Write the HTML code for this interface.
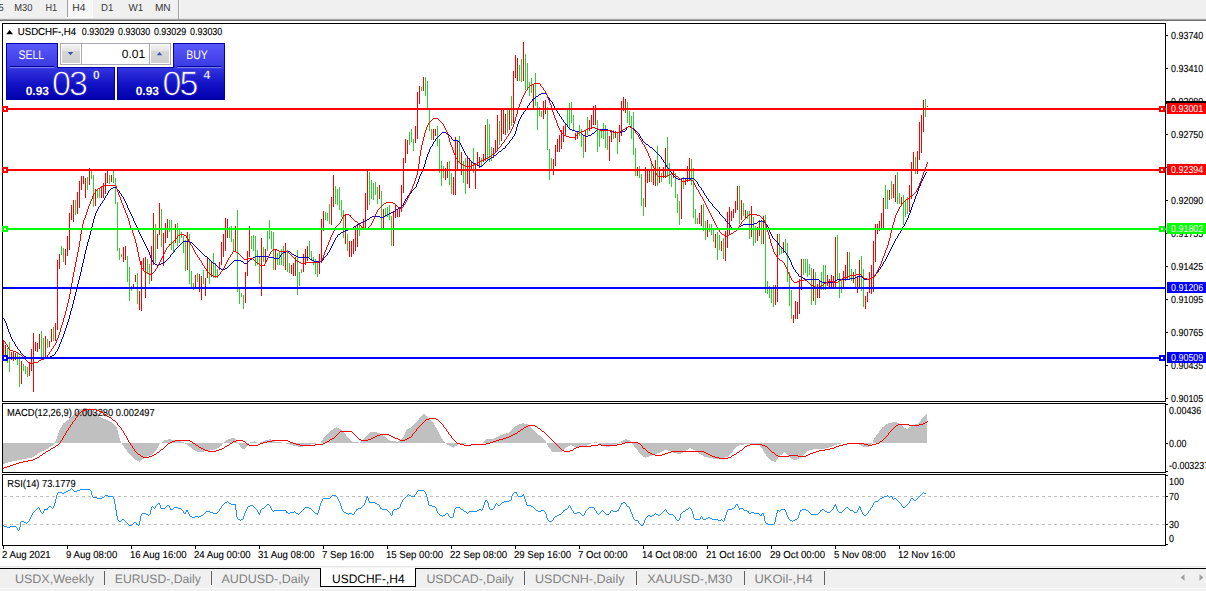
<!DOCTYPE html>
<html><head><meta charset="utf-8"><title>USDCHF-,H4</title>
<style>html,body{margin:0;padding:0;background:#fff;}body{width:1206px;height:591px;overflow:hidden;position:relative;font-family:"Liberation Sans",sans-serif;}</style></head>
<body>
<svg width="1206" height="591" viewBox="0 0 1206 591" style="position:absolute;left:0;top:0" text-rendering="geometricPrecision" font-family='"Liberation Sans", sans-serif'>
<rect width="1206" height="591" fill="#fff"/>
<defs><pattern id="dith" x="0" y="0" width="2" height="2" patternUnits="userSpaceOnUse"><rect width="2" height="2" fill="#f3f3f3"/><rect width="1" height="1" fill="#fcfcfc"/><rect x="1" y="1" width="1" height="1" fill="#fcfcfc"/></pattern></defs>
<g shape-rendering="crispEdges">
<rect x="0" y="0" width="1206" height="19" fill="#f0f0f0"/>
<rect x="0" y="18" width="1206" height="1" fill="#e4e4e4"/>
<rect x="0" y="19" width="1206" height="1" fill="#a4a4a4"/>
<rect x="0" y="20" width="1206" height="1" fill="#707070"/>
<rect x="67" y="0" width="26" height="18" fill="#ffffff"/>
<rect x="68" y="0" width="24" height="17" fill="url(#dith)"/>
<rect x="67" y="0" width="1" height="17" fill="#a0a0a0"/>
<rect x="178" y="0" width="1" height="19" fill="#a0a0a0"/><rect x="179" y="0" width="1" height="18" fill="#fafafa"/>
</g>
<text x="-1.6" y="11" font-size="10.2" fill="#383838" textLength="5.2" lengthAdjust="spacingAndGlyphs">5</text>
<text x="14.3" y="11" font-size="10.2" fill="#383838" textLength="18.2" lengthAdjust="spacingAndGlyphs">M30</text>
<text x="45.4" y="11" font-size="10.2" fill="#383838" textLength="11.7" lengthAdjust="spacingAndGlyphs">H1</text>
<text x="72.2" y="11" font-size="10.2" fill="#383838" textLength="13.2" lengthAdjust="spacingAndGlyphs">H4</text>
<text x="100.9" y="11" font-size="10.2" fill="#383838" textLength="12.4" lengthAdjust="spacingAndGlyphs">D1</text>
<text x="128.6" y="11" font-size="10.2" fill="#383838" textLength="14.7" lengthAdjust="spacingAndGlyphs">W1</text>
<text x="154.9" y="11" font-size="10.2" fill="#383838" textLength="15.7" lengthAdjust="spacingAndGlyphs">MN</text>
<g shape-rendering="crispEdges" fill="none" stroke="#000" stroke-width="1">
<rect x="2.5" y="23.5" width="1163" height="378"/>
<rect x="2.5" y="403.5" width="1163" height="69"/>
<rect x="2.5" y="474.5" width="1163" height="71"/>
</g>
<defs><clipPath id="cm"><rect x="3" y="24" width="1162" height="377"/></clipPath><clipPath id="c2"><rect x="3" y="404" width="1162" height="68"/></clipPath><clipPath id="c3"><rect x="3" y="475" width="1162" height="70"/></clipPath><linearGradient id="gs" x1="0" y1="0" x2="0" y2="1"><stop offset="0" stop-color="#5858fa"/><stop offset="1" stop-color="#3a3ae2"/></linearGradient><linearGradient id="gp" gradientUnits="userSpaceOnUse" x1="0" y1="67" x2="0" y2="100"><stop offset="0" stop-color="#3636e0"/><stop offset="0.55" stop-color="#1010c4"/><stop offset="1" stop-color="#0000ac"/></linearGradient><linearGradient id="gb" x1="0" y1="0" x2="0" y2="1"><stop offset="0" stop-color="#f2f2f2"/><stop offset="0.36" stop-color="#e2e2e2"/><stop offset="0.36" stop-color="#d6d6d6"/><stop offset="1" stop-color="#d0d0d0"/></linearGradient></defs>
<g clip-path="url(#cm)">
<path d="M3.5,340V361M5.5,345V361M11.5,352V360M13.5,352V361M15.5,353V360M21.5,361V384M29.5,363V376M31.5,349V371M33.5,333V392M35.5,342V351M37.5,343V352M39.5,334V349M45.5,336V358M49.5,341V347M51.5,329V342M55.5,323V341M57.5,260V330M59.5,254V269M65.5,249V265M67.5,236V256M69.5,213V250M71.5,205V220M73.5,200V222M77.5,192V214M79.5,181V208M81.5,176V190M83.5,176V184M85.5,178V198M89.5,168V185M95.5,189V206M101.5,186V198M103.5,183V198M105.5,173V194M107.5,171V183M111.5,175V182M123.5,247V262M125.5,246V260M133.5,284V289M135.5,275V282M139.5,291V310M141.5,261V311M143.5,258V271M145.5,257V298M151.5,246V281M153.5,213V265M157.5,234V249M159.5,203V235M163.5,233V266M165.5,223V243M167.5,219V238M175.5,224V243M187.5,232V270M195.5,275V289M199.5,274V292M201.5,276V300M205.5,278V296M207.5,258V278M211.5,261V277M219.5,262V270M221.5,242V265M223.5,234V257M225.5,218V251M227.5,219V238M235.5,226V251M245.5,272V303M247.5,251V276M249.5,226V257M261.5,238V296M265.5,249V262M275.5,249V270M285.5,243V270M291.5,265V274M293.5,263V276M295.5,257V276M303.5,254V272M305.5,249V265M307.5,246V261M319.5,254V274M321.5,219V263M323.5,211V231M331.5,197V225M333.5,175V207M345.5,215V244M349.5,241V257M351.5,241V257M353.5,239V254M355.5,227V251M357.5,225V247M363.5,219V228M365.5,193V230M367.5,171V210M379.5,185V199M383.5,209V228M393.5,211V246M395.5,205V218M397.5,210V217M399.5,209V217M401.5,185V212M403.5,158V193M405.5,139V163M407.5,140V154M415.5,126V143M417.5,92V139M419.5,86V104M423.5,77V91M433.5,129V140M435.5,129V136M445.5,168V180M447.5,162V178M453.5,177V195M455.5,137V195M457.5,140V170M461.5,152V175M467.5,158V184M469.5,158V188M471.5,161V170M475.5,163V189M477.5,152V166M479.5,157V168M483.5,154V162M485.5,125V161M493.5,148V158M495.5,140V153M497.5,115V150M501.5,109V141M503.5,109V134M505.5,114V135M509.5,109V130M513.5,71V123M515.5,55V78M517.5,58V81M523.5,42V81M533.5,84V110M543.5,101V119M545.5,100V114M553.5,159V175M555.5,145V166M557.5,139V152M559.5,135V152M561.5,130V149M563.5,126V142M565.5,124V135M575.5,133V140M577.5,131V139M585.5,131V152M589.5,120V131M591.5,115V129M593.5,106V125M595.5,105V125M609.5,136V161M611.5,130V142M615.5,131V138M619.5,125V142M621.5,101V136M623.5,97V111M625.5,99V113M637.5,167V176M645.5,167V207M647.5,170V183M649.5,170V182M653.5,169V185M655.5,160V186M659.5,167V183M663.5,167V178M665.5,148V178M673.5,171V178M681.5,178V219M685.5,178V185M687.5,166V182M689.5,158V180M699.5,213V224M701.5,205V226M707.5,220V237M715.5,234V248M721.5,241V251M725.5,231V261M727.5,212V248M729.5,207V234M731.5,211V221M733.5,209V218M735.5,201V213M737.5,186V210M741.5,200V220M745.5,210V218M751.5,206V237M757.5,227V241M759.5,220V236M763.5,216V244M775.5,285V305M777.5,234V302M783.5,242V253M793.5,315V323M795.5,301V319M797.5,302V319M799.5,279V314M801.5,259V290M813.5,269V301M817.5,284V298M819.5,281V298M827.5,275V286M829.5,279V289M831.5,275V289M833.5,276V288M835.5,237V288M843.5,271V288M845.5,265V281M847.5,252V279M853.5,272V283M857.5,276V293M859.5,260V288M865.5,296V309M867.5,292V302M869.5,272V293M871.5,265V294M873.5,241V292M875.5,224V262M877.5,224V234M879.5,221V231M881.5,213V230M883.5,198V228M889.5,190V200M893.5,184V198M895.5,175V202M901.5,197V206M909.5,185V212M911.5,162V199M913.5,152V169M917.5,151V174M919.5,122V160M921.5,115V153M923.5,100V132M927.5,106V107" stroke="#ff0000" stroke-width="1" shape-rendering="crispEdges" fill="none"/>
<path d="M7.5,348V363M9.5,342V372M17.5,352V365M19.5,356V387M23.5,364V371M25.5,366V374M27.5,367V377M41.5,331V358M43.5,338V359M47.5,339V348M53.5,327V341M61.5,246V255M63.5,248V262M75.5,200V215M87.5,177V190M91.5,169V179M93.5,175V207M97.5,189V198M99.5,188V198M109.5,175V184M113.5,171V183M115.5,178V204M117.5,202V251M119.5,248V260M121.5,254V257M127.5,256V282M129.5,267V301M131.5,286V291M137.5,273V304M147.5,259V273M149.5,264V284M155.5,224V263M161.5,209V247M169.5,220V232M171.5,220V250M173.5,242V252M177.5,223V246M179.5,230V243M181.5,232V238M183.5,236V253M185.5,240V271M189.5,234V284M191.5,271V289M193.5,283V290M197.5,273V282M203.5,270V284M209.5,259V284M213.5,253V278M215.5,263V278M217.5,269V278M229.5,227V238M231.5,226V242M233.5,239V251M237.5,210V292M239.5,288V304M241.5,293V297M243.5,295V309M251.5,236V249M253.5,235V251M255.5,236V266M257.5,250V265M259.5,257V284M263.5,247V262M267.5,231V251M269.5,220V239M271.5,231V249M273.5,232V270M277.5,253V265M279.5,251V265M281.5,249V265M283.5,246V266M287.5,250V272M289.5,263V273M297.5,250V295M299.5,272V286M301.5,269V273M309.5,241V257M311.5,251V261M313.5,257V265M315.5,259V274M317.5,261V277M325.5,212V220M327.5,213V221M329.5,204V224M335.5,186V204M337.5,189V205M339.5,187V210M341.5,200V217M343.5,210V238M347.5,234V251M359.5,225V236M361.5,226V230M369.5,172V205M371.5,180V199M373.5,183V200M375.5,182V195M377.5,187V204M381.5,191V228M385.5,208V217M387.5,207V217M389.5,205V220M391.5,216V246M409.5,132V145M411.5,129V142M413.5,139V151M421.5,87V91M425.5,77V96M427.5,81V110M429.5,110V131M431.5,129V140M437.5,126V146M439.5,139V173M441.5,161V186M443.5,166V178M449.5,161V185M451.5,173V194M459.5,136V163M463.5,161V183M465.5,158V194M473.5,148V173M481.5,158V167M487.5,119V161M489.5,124V162M491.5,147V161M499.5,121V145M507.5,110V133M511.5,96V126M519.5,65V81M521.5,59V82M525.5,54V90M527.5,63V90M529.5,82V96M531.5,78V93M535.5,73V106M537.5,102V130M539.5,107V116M541.5,111V117M547.5,107V150M549.5,149V180M551.5,158V169M567.5,109V125M569.5,103V130M571.5,102V123M573.5,115V131M579.5,125V136M581.5,129V147M583.5,135V158M587.5,117V135M597.5,120V152M599.5,129V147M601.5,130V138M603.5,123V139M605.5,125V148M607.5,131V150M613.5,130V139M617.5,133V154M627.5,102V123M629.5,111V125M631.5,116V139M633.5,112V155M635.5,148V176M639.5,166V178M641.5,174V206M643.5,198V216M651.5,164V182M657.5,146V186M661.5,173V182M667.5,137V177M669.5,163V184M671.5,175V187M675.5,173V198M677.5,194V213M679.5,201V225M683.5,177V189M691.5,159V185M693.5,168V218M695.5,209V224M697.5,218V224M703.5,204V231M705.5,221V240M709.5,224V232M711.5,224V235M713.5,228V242M717.5,232V260M719.5,235V250M723.5,238V259M739.5,186V224M743.5,203V216M747.5,211V219M749.5,211V239M753.5,217V246M755.5,226V243M761.5,220V244M765.5,215V293M767.5,281V294M769.5,286V298M771.5,288V303M773.5,285V307M779.5,234V255M781.5,247V254M785.5,239V252M787.5,243V282M789.5,272V306M791.5,290V319M803.5,259V275M805.5,259V273M807.5,259V277M809.5,264V275M811.5,268V305M815.5,272V305M821.5,272V290M823.5,265V290M825.5,265V290M837.5,235V279M839.5,273V298M841.5,280V293M849.5,252V280M851.5,269V281M855.5,269V288M861.5,256V291M863.5,269V307M885.5,185V209M887.5,190V209M891.5,181V199M897.5,172V204M899.5,193V204M903.5,195V225M905.5,200V217M907.5,197V214M915.5,157V174M925.5,99V117" stroke="#32cd32" stroke-width="1" shape-rendering="crispEdges" fill="none"/>
<path d="" stroke="#000" stroke-width="1" shape-rendering="crispEdges" fill="none"/>
<path d="M3.5,318V319M4.5,319V321M5.5,321V323M6.5,323V326M7.5,326V329M8.5,329V332M9.5,332V334M10.5,334V337M11.5,337V339M12.5,339V341M13.5,341V342M14.5,342V344M15.5,344V346M16.5,346V347M17.5,347V349M18.5,349V350M19.5,350V351M20.5,351V353M21.5,353V354M22.5,354V355M23.5,355V356M24.5,356V357M25.5,356V357M26.5,357V358M27.5,357V358M28.5,357V358M29.5,357V358M30.5,357V358M31.5,357V358M32.5,357V358M33.5,357V358M34.5,357V358M35.5,357V358M36.5,357V358M37.5,357V358M38.5,357V358M39.5,357V358M40.5,357V358M41.5,357V358M42.5,357V358M43.5,357V358M44.5,357V358M45.5,357V358M46.5,357V358M47.5,357V358M48.5,357V358M49.5,357V358M50.5,356V357M51.5,356V357M52.5,355V356M53.5,355V356M54.5,354V355M55.5,352V354M56.5,351V352M57.5,349V351M58.5,347V349M59.5,344V347M60.5,342V344M61.5,339V342M62.5,337V339M63.5,334V337M64.5,331V334M65.5,328V331M66.5,325V328M67.5,322V325M68.5,319V322M69.5,315V319M70.5,311V315M71.5,308V311M72.5,304V308M73.5,300V304M74.5,296V300M75.5,292V296M76.5,288V292M77.5,284V288M78.5,280V284M79.5,276V280M80.5,272V276M81.5,267V272M82.5,263V267M83.5,259V263M84.5,254V259M85.5,250V254M86.5,246V250M87.5,242V246M88.5,239V242M89.5,235V239M90.5,231V235M91.5,227V231M92.5,223V227M93.5,219V223M94.5,216V219M95.5,213V216M96.5,211V213M97.5,209V211M98.5,207V209M99.5,206V207M100.5,204V206M101.5,203V204M102.5,201V203M103.5,200V201M104.5,198V200M105.5,196V198M106.5,195V196M107.5,193V195M108.5,191V193M109.5,190V191M110.5,189V190M111.5,188V189M112.5,188V189M113.5,187V188M114.5,187V188M115.5,187V188M116.5,188V189M117.5,189V190M118.5,190V191M119.5,191V193M120.5,193V194M121.5,194V196M122.5,196V197M123.5,197V199M124.5,199V201M125.5,201V203M126.5,203V205M127.5,205V208M128.5,208V210M129.5,210V212M130.5,212V214M131.5,214V216M132.5,216V218M133.5,218V221M134.5,221V223M135.5,223V225M136.5,225V227M137.5,227V229M138.5,229V232M139.5,232V234M140.5,234V236M141.5,236V238M142.5,238V240M143.5,240V242M144.5,242V244M145.5,244V246M146.5,246V248M147.5,248V250M148.5,250V252M149.5,252V255M150.5,255V258M151.5,258V260M152.5,260V262M153.5,262V263M154.5,263V264M155.5,264V265M156.5,264V265M157.5,265V266M158.5,265V266M159.5,264V265M160.5,264V265M161.5,263V264M162.5,263V264M163.5,262V263M164.5,262V263M165.5,261V262M166.5,260V261M167.5,259V260M168.5,258V259M169.5,257V258M170.5,255V257M171.5,254V255M172.5,253V254M173.5,252V253M174.5,250V252M175.5,249V250M176.5,248V249M177.5,247V248M178.5,246V247M179.5,245V246M180.5,244V245M181.5,243V244M182.5,242V243M183.5,241V242M184.5,241V242M185.5,241V242M186.5,241V242M187.5,241V242M188.5,241V242M189.5,241V242M190.5,242V243M191.5,242V243M192.5,243V244M193.5,244V245M194.5,245V246M195.5,246V247M196.5,247V248M197.5,248V249M198.5,249V250M199.5,250V251M200.5,251V252M201.5,252V253M202.5,253V254M203.5,254V255M204.5,255V256M205.5,256V257M206.5,256V257M207.5,257V258M208.5,258V259M209.5,259V260M210.5,260V261M211.5,261V262M212.5,262V263M213.5,263V264M214.5,263V264M215.5,264V265M216.5,265V266M217.5,266V267M218.5,267V268M219.5,268V269M220.5,268V269M221.5,269V270M222.5,269V270M223.5,269V270M224.5,269V270M225.5,268V269M226.5,268V269M227.5,267V268M228.5,266V267M229.5,265V266M230.5,264V265M231.5,263V264M232.5,262V263M233.5,261V262M234.5,260V261M235.5,260V261M236.5,260V261M237.5,260V261M238.5,260V261M239.5,260V261M240.5,260V261M241.5,261V262M242.5,261V262M243.5,262V263M244.5,263V264M245.5,263V264M246.5,263V264M247.5,262V263M248.5,261V262M249.5,260V261M250.5,259V260M251.5,259V260M252.5,258V259M253.5,257V258M254.5,257V258M255.5,256V257M256.5,256V257M257.5,256V257M258.5,256V257M259.5,256V257M260.5,256V257M261.5,256V257M262.5,256V257M263.5,256V257M264.5,256V257M265.5,256V257M266.5,256V257M267.5,256V257M268.5,256V257M269.5,257V258M270.5,257V258M271.5,257V258M272.5,257V258M273.5,257V258M274.5,258V259M275.5,258V259M276.5,258V259M277.5,258V259M278.5,258V259M279.5,257V258M280.5,255V257M281.5,254V255M282.5,253V254M283.5,252V253M284.5,252V253M285.5,252V253M286.5,251V252M287.5,251V252M288.5,251V252M289.5,251V252M290.5,252V253M291.5,253V254M292.5,254V255M293.5,254V255M294.5,255V256M295.5,255V256M296.5,256V257M297.5,256V257M298.5,257V258M299.5,257V258M300.5,257V258M301.5,257V258M302.5,257V258M303.5,257V258M304.5,257V258M305.5,257V258M306.5,257V258M307.5,257V258M308.5,257V258M309.5,258V259M310.5,259V260M311.5,259V260M312.5,260V261M313.5,260V261M314.5,261V262M315.5,261V262M316.5,261V262M317.5,261V262M318.5,261V262M319.5,262V263M320.5,261V262M321.5,261V262M322.5,260V261M323.5,258V260M324.5,257V258M325.5,256V257M326.5,255V256M327.5,253V255M328.5,252V253M329.5,250V252M330.5,248V250M331.5,246V248M332.5,244V246M333.5,242V244M334.5,240V242M335.5,238V240M336.5,237V238M337.5,235V237M338.5,234V235M339.5,234V235M340.5,233V234M341.5,232V233M342.5,232V233M343.5,231V232M344.5,231V232M345.5,230V231M346.5,230V231M347.5,230V231M348.5,229V230M349.5,229V230M350.5,229V230M351.5,229V230M352.5,228V229M353.5,227V228M354.5,226V227M355.5,226V227M356.5,225V226M357.5,224V225M358.5,224V225M359.5,223V224M360.5,223V224M361.5,222V223M362.5,222V223M363.5,221V222M364.5,221V222M365.5,220V221M366.5,220V221M367.5,219V220M368.5,219V220M369.5,218V219M370.5,217V218M371.5,217V218M372.5,216V217M373.5,216V217M374.5,216V217M375.5,216V217M376.5,216V217M377.5,216V217M378.5,216V217M379.5,216V217M380.5,217V218M381.5,217V218M382.5,217V218M383.5,217V218M384.5,216V217M385.5,215V216M386.5,215V216M387.5,214V215M388.5,214V215M389.5,213V214M390.5,213V214M391.5,212V213M392.5,212V213M393.5,211V212M394.5,211V212M395.5,210V211M396.5,209V210M397.5,209V210M398.5,208V209M399.5,207V208M400.5,207V208M401.5,206V207M402.5,205V206M403.5,203V205M404.5,201V203M405.5,199V201M406.5,198V199M407.5,196V198M408.5,195V196M409.5,194V195M410.5,193V194M411.5,191V193M412.5,190V191M413.5,189V190M414.5,188V189M415.5,187V188M416.5,184V187M417.5,182V184M418.5,179V182M419.5,176V179M420.5,174V176M421.5,172V174M422.5,169V172M423.5,167V169M424.5,164V167M425.5,160V164M426.5,157V160M427.5,154V157M428.5,152V154M429.5,149V152M430.5,147V149M431.5,146V147M432.5,144V146M433.5,142V144M434.5,141V142M435.5,139V141M436.5,138V139M437.5,137V138M438.5,136V137M439.5,135V136M440.5,134V135M441.5,133V134M442.5,132V133M443.5,132V133M444.5,132V133M445.5,132V133M446.5,133V134M447.5,133V134M448.5,134V135M449.5,135V136M450.5,136V137M451.5,137V139M452.5,139V140M453.5,140V141M454.5,140V141M455.5,140V141M456.5,140V141M457.5,140V141M458.5,141V142M459.5,142V143M460.5,143V145M461.5,145V147M462.5,147V149M463.5,149V151M464.5,151V153M465.5,153V155M466.5,155V156M467.5,156V158M468.5,158V159M469.5,159V160M470.5,160V161M471.5,161V162M472.5,162V163M473.5,163V164M474.5,163V164M475.5,164V165M476.5,164V165M477.5,165V166M478.5,165V166M479.5,166V167M480.5,166V167M481.5,166V167M482.5,165V166M483.5,164V165M484.5,163V164M485.5,162V163M486.5,161V162M487.5,160V161M488.5,159V160M489.5,159V160M490.5,158V159M491.5,157V158M492.5,157V158M493.5,156V157M494.5,155V156M495.5,155V156M496.5,154V155M497.5,153V154M498.5,152V153M499.5,151V152M500.5,151V152M501.5,150V151M502.5,149V150M503.5,148V149M504.5,148V149M505.5,146V148M506.5,145V146M507.5,144V145M508.5,143V144M509.5,141V143M510.5,140V141M511.5,139V140M512.5,137V139M513.5,136V137M514.5,134V136M515.5,131V134M516.5,127V131M517.5,124V127M518.5,121V124M519.5,119V121M520.5,117V119M521.5,115V117M522.5,114V115M523.5,112V114M524.5,111V112M525.5,109V111M526.5,108V109M527.5,106V108M528.5,105V106M529.5,103V105M530.5,102V103M531.5,101V102M532.5,99V101M533.5,99V100M534.5,98V99M535.5,97V98M536.5,96V97M537.5,96V97M538.5,95V96M539.5,94V95M540.5,94V95M541.5,93V94M542.5,93V94M543.5,93V94M544.5,93V94M545.5,93V94M546.5,94V95M547.5,95V97M548.5,97V98M549.5,98V100M550.5,100V101M551.5,101V102M552.5,102V104M553.5,104V106M554.5,106V108M555.5,108V109M556.5,109V111M557.5,111V113M558.5,113V114M559.5,114V116M560.5,116V117M561.5,117V119M562.5,119V120M563.5,120V122M564.5,122V123M565.5,123V124M566.5,124V125M567.5,125V127M568.5,127V128M569.5,128V129M570.5,129V130M571.5,129V130M572.5,130V131M573.5,130V131M574.5,130V131M575.5,131V132M576.5,131V132M577.5,131V132M578.5,131V132M579.5,132V133M580.5,132V133M581.5,133V134M582.5,134V135M583.5,135V136M584.5,135V136M585.5,136V137M586.5,136V137M587.5,136V137M588.5,135V136M589.5,135V136M590.5,135V136M591.5,134V135M592.5,133V134M593.5,133V134M594.5,132V133M595.5,131V132M596.5,130V131M597.5,129V130M598.5,129V130M599.5,129V130M600.5,129V130M601.5,129V130M602.5,129V130M603.5,129V130M604.5,129V130M605.5,129V130M606.5,129V130M607.5,129V130M608.5,130V131M609.5,130V131M610.5,131V132M611.5,131V132M612.5,131V132M613.5,131V132M614.5,132V133M615.5,132V133M616.5,132V133M617.5,132V133M618.5,132V133M619.5,132V133M620.5,132V133M621.5,132V133M622.5,131V132M623.5,131V132M624.5,131V132M625.5,130V131M626.5,128V130M627.5,127V128M628.5,126V127M629.5,126V127M630.5,126V127M631.5,127V128M632.5,128V129M633.5,128V129M634.5,129V130M635.5,130V131M636.5,131V132M637.5,132V133M638.5,133V134M639.5,134V136M640.5,136V138M641.5,138V139M642.5,139V141M643.5,141V142M644.5,142V143M645.5,143V144M646.5,144V145M647.5,144V145M648.5,145V146M649.5,146V147M650.5,147V148M651.5,147V148M652.5,148V149M653.5,149V150M654.5,150V151M655.5,151V152M656.5,152V153M657.5,153V154M658.5,154V155M659.5,155V156M660.5,156V157M661.5,157V159M662.5,159V160M663.5,160V162M664.5,162V163M665.5,163V165M666.5,165V167M667.5,167V168M668.5,168V170M669.5,170V171M670.5,171V172M671.5,172V173M672.5,173V175M673.5,175V176M674.5,176V177M675.5,177V178M676.5,178V179M677.5,178V179M678.5,179V180M679.5,179V180M680.5,179V180M681.5,179V180M682.5,178V179M683.5,178V179M684.5,178V179M685.5,178V179M686.5,178V179M687.5,178V179M688.5,178V179M689.5,178V179M690.5,178V179M691.5,178V179M692.5,178V179M693.5,178V179M694.5,179V180M695.5,180V181M696.5,181V182M697.5,182V184M698.5,184V186M699.5,186V187M700.5,187V188M701.5,188V190M702.5,190V191M703.5,191V193M704.5,193V195M705.5,195V196M706.5,196V198M707.5,198V199M708.5,199V201M709.5,201V202M710.5,202V203M711.5,203V204M712.5,204V206M713.5,206V207M714.5,207V208M715.5,208V209M716.5,209V210M717.5,210V211M718.5,211V212M719.5,212V214M720.5,214V215M721.5,215V216M722.5,216V217M723.5,217V218M724.5,218V219M725.5,219V221M726.5,221V222M727.5,222V223M728.5,223V224M729.5,224V225M730.5,225V227M731.5,227V228M732.5,228V229M733.5,229V230M734.5,229V230M735.5,229V230M736.5,228V230M737.5,228V229M738.5,227V228M739.5,226V227M740.5,226V227M741.5,225V226M742.5,225V226M743.5,224V225M744.5,224V225M745.5,224V225M746.5,224V225M747.5,224V225M748.5,224V225M749.5,224V225M750.5,224V225M751.5,224V225M752.5,224V225M753.5,224V225M754.5,223V224M755.5,223V224M756.5,223V224M757.5,222V223M758.5,221V222M759.5,221V222M760.5,221V222M761.5,220V221M762.5,221V222M763.5,221V222M764.5,222V223M765.5,223V224M766.5,224V225M767.5,225V227M768.5,227V229M769.5,229V232M770.5,232V234M771.5,234V236M772.5,236V238M773.5,238V239M774.5,239V240M775.5,240V241M776.5,241V242M777.5,242V243M778.5,243V245M779.5,245V246M780.5,246V247M781.5,247V248M782.5,248V249M783.5,249V251M784.5,251V252M785.5,252V253M786.5,253V255M787.5,255V256M788.5,256V258M789.5,258V260M790.5,260V262M791.5,262V265M792.5,265V267M793.5,267V269M794.5,269V270M795.5,270V272M796.5,272V273M797.5,273V274M798.5,274V276M799.5,276V277M800.5,276V277M801.5,277V278M802.5,277V278M803.5,278V279M804.5,278V279M805.5,279V280M806.5,279V280M807.5,279V280M808.5,279V280M809.5,279V280M810.5,279V280M811.5,279V280M812.5,279V280M813.5,279V280M814.5,279V280M815.5,279V280M816.5,279V280M817.5,279V280M818.5,279V280M819.5,280V281M820.5,281V282M821.5,281V282M822.5,282V283M823.5,282V283M824.5,282V283M825.5,282V283M826.5,282V283M827.5,282V283M828.5,282V283M829.5,282V283M830.5,282V283M831.5,282V283M832.5,282V283M833.5,281V282M834.5,281V282M835.5,280V281M836.5,280V281M837.5,279V280M838.5,279V280M839.5,279V280M840.5,279V280M841.5,279V280M842.5,279V280M843.5,279V280M844.5,279V280M845.5,279V280M846.5,279V280M847.5,279V280M848.5,279V280M849.5,279V280M850.5,278V279M851.5,278V279M852.5,278V279M853.5,278V279M854.5,278V279M855.5,277V278M856.5,277V278M857.5,276V277M858.5,276V277M859.5,276V277M860.5,276V277M861.5,276V277M862.5,277V278M863.5,278V279M864.5,279V280M865.5,279V280M866.5,279V280M867.5,279V280M868.5,279V280M869.5,279V280M870.5,278V279M871.5,278V279M872.5,277V278M873.5,276V277M874.5,276V277M875.5,274V276M876.5,273V274M877.5,272V273M878.5,270V272M879.5,269V270M880.5,267V269M881.5,266V267M882.5,264V266M883.5,262V264M884.5,261V262M885.5,259V261M886.5,257V259M887.5,255V257M888.5,253V255M889.5,251V253M890.5,249V251M891.5,247V249M892.5,245V247M893.5,243V245M894.5,241V243M895.5,239V241M896.5,238V239M897.5,236V238M898.5,234V236M899.5,233V234M900.5,231V233M901.5,229V231M902.5,227V229M903.5,226V227M904.5,224V226M905.5,222V224M906.5,220V222M907.5,218V220M908.5,215V218M909.5,213V215M910.5,210V213M911.5,207V210M912.5,204V207M913.5,202V204M914.5,199V202M915.5,196V199M916.5,194V196M917.5,191V194M918.5,188V191M919.5,186V188M920.5,183V186M921.5,181V183M922.5,179V181M923.5,177V179M924.5,175V177M925.5,173V175M926.5,172V173" stroke="#0000cd" stroke-width="1" fill="none" shape-rendering="crispEdges"/>
<path d="M3.5,340V341M4.5,341V342M5.5,342V344M6.5,344V345M7.5,345V347M8.5,347V349M9.5,349V350M10.5,350V351M11.5,350V351M12.5,350V351M13.5,351V352M14.5,351V352M15.5,351V352M16.5,352V353M17.5,352V353M18.5,353V354M19.5,354V355M20.5,354V355M21.5,355V356M22.5,356V357M23.5,357V358M24.5,358V359M25.5,359V360M26.5,360V361M27.5,361V362M28.5,362V363M29.5,362V363M30.5,363V364M31.5,363V364M32.5,363V364M33.5,363V364M34.5,362V363M35.5,362V363M36.5,362V363M37.5,362V363M38.5,361V362M39.5,360V361M40.5,360V361M41.5,359V360M42.5,359V360M43.5,359V360M44.5,358V359M45.5,358V359M46.5,357V358M47.5,355V357M48.5,354V355M49.5,352V354M50.5,351V352M51.5,349V351M52.5,348V349M53.5,346V348M54.5,345V346M55.5,343V345M56.5,340V343M57.5,338V340M58.5,335V338M59.5,332V335M60.5,328V332M61.5,325V328M62.5,322V325M63.5,318V322M64.5,315V318M65.5,311V315M66.5,307V311M67.5,303V307M68.5,299V303M69.5,294V299M70.5,289V294M71.5,283V289M72.5,277V283M73.5,272V277M74.5,267V272M75.5,262V267M76.5,257V262M77.5,252V257M78.5,247V252M79.5,241V247M80.5,234V241M81.5,228V234M82.5,224V228M83.5,220V224M84.5,218V220M85.5,215V218M86.5,212V215M87.5,209V212M88.5,206V209M89.5,204V206M90.5,201V204M91.5,199V201M92.5,196V199M93.5,194V196M94.5,193V194M95.5,191V193M96.5,190V191M97.5,189V190M98.5,188V189M99.5,188V189M100.5,187V188M101.5,187V188M102.5,186V187M103.5,186V187M104.5,185V186M105.5,185V186M106.5,185V186M107.5,185V186M108.5,185V186M109.5,185V186M110.5,185V186M111.5,185V186M112.5,185V186M113.5,185V186M114.5,185V186M115.5,185V186M116.5,186V189M117.5,189V192M118.5,192V195M119.5,195V197M120.5,197V200M121.5,200V203M122.5,203V205M123.5,205V208M124.5,208V210M125.5,210V213M126.5,213V215M127.5,215V218M128.5,218V221M129.5,221V225M130.5,225V228M131.5,228V230M132.5,230V233M133.5,233V236M134.5,236V239M135.5,239V243M136.5,243V247M137.5,247V252M138.5,252V257M139.5,257V261M140.5,261V265M141.5,265V268M142.5,268V269M143.5,269V271M144.5,271V272M145.5,271V272M146.5,272V273M147.5,273V274M148.5,273V274M149.5,274V275M150.5,274V275M151.5,274V275M152.5,273V274M153.5,272V273M154.5,271V272M155.5,269V271M156.5,268V269M157.5,266V268M158.5,264V266M159.5,262V264M160.5,260V262M161.5,258V260M162.5,256V258M163.5,254V256M164.5,252V254M165.5,250V252M166.5,248V250M167.5,247V248M168.5,246V247M169.5,244V246M170.5,244V245M171.5,243V244M172.5,242V243M173.5,241V242M174.5,240V241M175.5,239V240M176.5,238V239M177.5,236V238M178.5,235V236M179.5,235V236M180.5,234V235M181.5,234V235M182.5,234V235M183.5,234V235M184.5,235V236M185.5,235V236M186.5,236V238M187.5,238V239M188.5,239V241M189.5,241V243M190.5,243V245M191.5,245V246M192.5,246V248M193.5,248V250M194.5,250V252M195.5,252V254M196.5,254V255M197.5,255V257M198.5,257V258M199.5,258V260M200.5,260V261M201.5,261V263M202.5,263V265M203.5,265V266M204.5,266V268M205.5,268V269M206.5,269V271M207.5,271V272M208.5,272V273M209.5,273V274M210.5,274V275M211.5,275V276M212.5,275V276M213.5,276V277M214.5,276V277M215.5,276V277M216.5,276V277M217.5,276V277M218.5,275V276M219.5,274V275M220.5,272V274M221.5,271V272M222.5,269V271M223.5,268V269M224.5,266V268M225.5,264V266M226.5,262V264M227.5,260V262M228.5,258V260M229.5,257V258M230.5,255V257M231.5,254V255M232.5,252V254M233.5,251V252M234.5,251V252M235.5,251V252M236.5,252V253M237.5,252V253M238.5,253V254M239.5,254V255M240.5,255V256M241.5,256V257M242.5,257V258M243.5,258V259M244.5,259V260M245.5,259V260M246.5,259V260M247.5,258V259M248.5,258V259M249.5,258V259M250.5,258V259M251.5,258V259M252.5,258V259M253.5,259V260M254.5,260V261M255.5,261V262M256.5,262V263M257.5,263V264M258.5,263V264M259.5,264V265M260.5,265V266M261.5,265V266M262.5,265V266M263.5,265V266M264.5,264V266M265.5,262V264M266.5,260V262M267.5,258V260M268.5,256V258M269.5,254V256M270.5,252V254M271.5,251V252M272.5,250V251M273.5,249V250M274.5,249V250M275.5,249V250M276.5,249V250M277.5,250V251M278.5,250V251M279.5,251V252M280.5,251V252M281.5,251V252M282.5,251V252M283.5,251V252M284.5,251V252M285.5,251V252M286.5,251V252M287.5,251V252M288.5,252V253M289.5,253V254M290.5,254V255M291.5,255V256M292.5,256V257M293.5,257V258M294.5,258V259M295.5,259V260M296.5,260V261M297.5,261V262M298.5,261V262M299.5,262V263M300.5,262V263M301.5,263V264M302.5,263V264M303.5,263V264M304.5,263V264M305.5,262V263M306.5,262V263M307.5,262V263M308.5,262V263M309.5,262V263M310.5,262V263M311.5,262V263M312.5,262V263M313.5,262V263M314.5,262V263M315.5,262V263M316.5,262V263M317.5,262V263M318.5,262V263M319.5,261V262M320.5,261V262M321.5,260V261M322.5,258V260M323.5,255V258M324.5,252V255M325.5,250V252M326.5,247V250M327.5,245V247M328.5,242V245M329.5,240V242M330.5,237V240M331.5,235V237M332.5,233V235M333.5,231V233M334.5,229V231M335.5,227V229M336.5,226V227M337.5,225V226M338.5,224V225M339.5,223V224M340.5,221V223M341.5,219V221M342.5,217V219M343.5,215V217M344.5,215V216M345.5,214V215M346.5,214V215M347.5,214V215M348.5,214V215M349.5,215V216M350.5,215V217M351.5,217V218M352.5,218V219M353.5,219V220M354.5,220V221M355.5,221V222M356.5,221V222M357.5,222V223M358.5,223V224M359.5,224V225M360.5,225V226M361.5,226V227M362.5,227V228M363.5,228V229M364.5,228V229M365.5,228V229M366.5,228V229M367.5,228V229M368.5,227V228M369.5,226V227M370.5,225V226M371.5,223V225M372.5,221V223M373.5,219V221M374.5,216V219M375.5,214V216M376.5,212V214M377.5,210V212M378.5,209V210M379.5,208V209M380.5,207V208M381.5,206V207M382.5,205V206M383.5,204V205M384.5,203V204M385.5,203V204M386.5,202V203M387.5,202V203M388.5,202V203M389.5,202V203M390.5,202V203M391.5,202V203M392.5,202V203M393.5,203V204M394.5,203V204M395.5,204V205M396.5,205V206M397.5,206V207M398.5,207V208M399.5,208V209M400.5,208V209M401.5,208V209M402.5,207V208M403.5,205V207M404.5,204V205M405.5,202V204M406.5,200V202M407.5,198V200M408.5,196V198M409.5,193V196M410.5,191V193M411.5,189V191M412.5,186V189M413.5,184V186M414.5,181V184M415.5,178V181M416.5,175V178M417.5,171V175M418.5,164V171M419.5,156V164M420.5,150V156M421.5,145V150M422.5,141V145M423.5,137V141M424.5,133V137M425.5,130V133M426.5,127V130M427.5,125V127M428.5,123V125M429.5,122V123M430.5,121V122M431.5,120V121M432.5,119V120M433.5,118V119M434.5,118V119M435.5,118V119M436.5,118V119M437.5,118V119M438.5,119V120M439.5,120V121M440.5,121V122M441.5,122V123M442.5,123V124M443.5,124V126M444.5,126V128M445.5,128V130M446.5,130V132M447.5,132V135M448.5,135V138M449.5,138V142M450.5,142V145M451.5,145V147M452.5,147V150M453.5,150V153M454.5,153V155M455.5,155V158M456.5,158V159M457.5,159V161M458.5,161V162M459.5,162V163M460.5,163V164M461.5,164V165M462.5,164V165M463.5,165V166M464.5,165V166M465.5,166V167M466.5,166V167M467.5,166V167M468.5,166V167M469.5,166V167M470.5,166V167M471.5,166V167M472.5,165V166M473.5,165V166M474.5,164V165M475.5,164V165M476.5,164V165M477.5,163V164M478.5,162V163M479.5,162V163M480.5,161V162M481.5,160V161M482.5,160V161M483.5,159V160M484.5,159V160M485.5,158V159M486.5,158V159M487.5,158V159M488.5,157V158M489.5,156V157M490.5,156V157M491.5,155V156M492.5,154V155M493.5,153V154M494.5,153V154M495.5,152V153M496.5,151V152M497.5,149V151M498.5,148V149M499.5,147V148M500.5,146V147M501.5,144V146M502.5,143V144M503.5,142V143M504.5,140V142M505.5,139V140M506.5,137V139M507.5,136V137M508.5,134V136M509.5,133V134M510.5,131V133M511.5,129V131M512.5,127V129M513.5,124V127M514.5,121V124M515.5,117V121M516.5,114V117M517.5,110V114M518.5,107V110M519.5,104V107M520.5,102V104M521.5,99V102M522.5,97V99M523.5,95V97M524.5,93V95M525.5,91V93M526.5,90V91M527.5,88V90M528.5,87V88M529.5,86V87M530.5,85V86M531.5,85V86M532.5,84V85M533.5,84V85M534.5,83V84M535.5,83V84M536.5,83V84M537.5,83V84M538.5,83V84M539.5,83V84M540.5,84V86M541.5,86V87M542.5,87V88M543.5,88V90M544.5,90V91M545.5,91V93M546.5,93V95M547.5,95V98M548.5,98V100M549.5,100V103M550.5,103V105M551.5,105V109M552.5,109V112M553.5,112V115M554.5,115V118M555.5,118V120M556.5,120V123M557.5,123V126M558.5,126V128M559.5,128V130M560.5,130V132M561.5,132V133M562.5,133V134M563.5,134V135M564.5,135V136M565.5,135V136M566.5,136V137M567.5,136V137M568.5,136V137M569.5,137V138M570.5,137V138M571.5,137V138M572.5,137V138M573.5,137V138M574.5,137V138M575.5,136V137M576.5,135V136M577.5,134V135M578.5,133V134M579.5,132V133M580.5,132V133M581.5,131V132M582.5,131V132M583.5,131V132M584.5,130V131M585.5,130V131M586.5,129V130M587.5,129V130M588.5,128V129M589.5,128V129M590.5,128V129M591.5,127V128M592.5,127V128M593.5,127V128M594.5,127V128M595.5,128V129M596.5,128V129M597.5,128V129M598.5,129V130M599.5,129V130M600.5,130V131M601.5,130V131M602.5,130V131M603.5,130V131M604.5,130V131M605.5,130V131M606.5,130V131M607.5,130V131M608.5,130V131M609.5,130V131M610.5,130V131M611.5,131V132M612.5,131V132M613.5,132V133M614.5,132V133M615.5,132V133M616.5,132V133M617.5,132V133M618.5,132V133M619.5,132V133M620.5,131V132M621.5,131V132M622.5,130V131M623.5,129V130M624.5,129V130M625.5,128V129M626.5,127V128M627.5,127V128M628.5,126V127M629.5,126V127M630.5,127V128M631.5,127V128M632.5,128V129M633.5,129V130M634.5,130V131M635.5,131V133M636.5,133V134M637.5,134V135M638.5,135V137M639.5,137V139M640.5,139V140M641.5,140V142M642.5,142V144M643.5,144V145M644.5,145V147M645.5,147V149M646.5,149V151M647.5,151V153M648.5,153V156M649.5,156V158M650.5,158V161M651.5,161V164M652.5,164V166M653.5,166V168M654.5,168V171M655.5,171V173M656.5,173V175M657.5,175V176M658.5,176V177M659.5,176V177M660.5,176V177M661.5,176V177M662.5,176V177M663.5,176V177M664.5,176V177M665.5,176V177M666.5,176V177M667.5,175V176M668.5,175V176M669.5,174V175M670.5,174V175M671.5,173V174M672.5,173V174M673.5,174V175M674.5,174V175M675.5,175V176M676.5,176V177M677.5,176V177M678.5,177V178M679.5,178V179M680.5,179V180M681.5,180V181M682.5,181V182M683.5,181V182M684.5,181V182M685.5,181V182M686.5,180V181M687.5,180V181M688.5,180V181M689.5,180V181M690.5,179V180M691.5,180V181M692.5,180V181M693.5,181V183M694.5,183V185M695.5,185V187M696.5,187V189M697.5,189V190M698.5,190V192M699.5,192V194M700.5,194V196M701.5,196V197M702.5,197V199M703.5,199V201M704.5,201V203M705.5,203V205M706.5,205V207M707.5,207V209M708.5,209V211M709.5,211V213M710.5,213V215M711.5,215V217M712.5,217V219M713.5,219V221M714.5,221V223M715.5,223V225M716.5,225V227M717.5,227V229M718.5,229V230M719.5,230V232M720.5,232V233M721.5,233V234M722.5,234V235M723.5,234V235M724.5,235V236M725.5,236V237M726.5,236V237M727.5,235V236M728.5,235V236M729.5,234V235M730.5,234V235M731.5,233V234M732.5,233V234M733.5,232V233M734.5,231V232M735.5,231V232M736.5,230V231M737.5,228V230M738.5,227V228M739.5,225V227M740.5,224V225M741.5,222V224M742.5,221V222M743.5,220V221M744.5,219V220M745.5,218V219M746.5,217V218M747.5,216V217M748.5,215V216M749.5,214V215M750.5,214V215M751.5,214V215M752.5,214V215M753.5,214V215M754.5,214V215M755.5,214V215M756.5,214V215M757.5,215V216M758.5,215V216M759.5,215V216M760.5,216V217M761.5,217V218M762.5,218V219M763.5,219V220M764.5,220V222M765.5,222V225M766.5,225V228M767.5,228V232M768.5,232V235M769.5,235V239M770.5,239V243M771.5,243V246M772.5,246V249M773.5,249V252M774.5,252V254M775.5,254V255M776.5,255V257M777.5,257V258M778.5,258V259M779.5,259V260M780.5,260V261M781.5,260V261M782.5,261V262M783.5,262V263M784.5,263V265M785.5,265V267M786.5,267V269M787.5,269V272M788.5,272V274M789.5,274V276M790.5,276V278M791.5,278V280M792.5,280V281M793.5,281V282M794.5,282V283M795.5,282V283M796.5,282V283M797.5,281V282M798.5,281V282M799.5,281V282M800.5,280V281M801.5,280V281M802.5,280V281M803.5,280V281M804.5,279V280M805.5,280V281M806.5,280V281M807.5,281V282M808.5,282V283M809.5,283V284M810.5,284V285M811.5,285V286M812.5,285V286M813.5,286V287M814.5,286V287M815.5,287V288M816.5,287V288M817.5,287V288M818.5,287V288M819.5,287V288M820.5,286V287M821.5,285V286M822.5,285V286M823.5,284V285M824.5,283V284M825.5,283V284M826.5,282V283M827.5,282V283M828.5,281V282M829.5,281V282M830.5,281V282M831.5,281V282M832.5,281V282M833.5,281V282M834.5,282V283M835.5,282V283M836.5,282V283M837.5,282V283M838.5,281V282M839.5,280V281M840.5,280V281M841.5,279V280M842.5,278V279M843.5,278V279M844.5,277V278M845.5,277V278M846.5,277V278M847.5,276V277M848.5,276V277M849.5,276V277M850.5,275V276M851.5,275V276M852.5,275V276M853.5,275V276M854.5,275V276M855.5,275V276M856.5,274V275M857.5,274V275M858.5,274V275M859.5,274V275M860.5,274V275M861.5,275V276M862.5,276V277M863.5,277V278M864.5,278V279M865.5,278V279M866.5,278V279M867.5,279V280M868.5,279V280M869.5,279V280M870.5,278V279M871.5,278V279M872.5,277V278M873.5,276V277M874.5,275V277M875.5,274V275M876.5,272V274M877.5,270V272M878.5,268V270M879.5,266V268M880.5,264V266M881.5,261V264M882.5,258V261M883.5,256V258M884.5,253V256M885.5,250V253M886.5,248V250M887.5,245V248M888.5,241V245M889.5,238V241M890.5,233V238M891.5,229V233M892.5,225V229M893.5,222V225M894.5,218V222M895.5,215V218M896.5,213V215M897.5,211V213M898.5,209V211M899.5,207V209M900.5,206V207M901.5,204V206M902.5,203V204M903.5,202V203M904.5,201V202M905.5,200V201M906.5,199V200M907.5,199V200M908.5,198V199M909.5,197V198M910.5,196V197M911.5,195V196M912.5,195V196M913.5,194V195M914.5,193V194M915.5,192V193M916.5,190V192M917.5,188V190M918.5,186V188M919.5,183V186M920.5,181V183M921.5,178V181M922.5,175V178M923.5,172V175M924.5,169V172M925.5,167V169M926.5,164V167M927.5,162V164" stroke="#ff0000" stroke-width="1" fill="none" shape-rendering="crispEdges"/>
</g>
<g shape-rendering="crispEdges">
<rect x="3" y="108" width="1163" height="2" fill="#ff0000"/>
<rect x="3" y="169" width="1163" height="2" fill="#ff0000"/>
<rect x="3" y="228" width="1163" height="2" fill="#00ff00"/>
<rect x="3" y="287" width="1163" height="2" fill="#0000ff"/>
<rect x="3" y="357" width="1163" height="2" fill="#0000ff"/>
</g>
<g shape-rendering="crispEdges">
<rect x="1166" y="35" width="2" height="1" fill="#000"/>
<rect x="1166" y="68" width="2" height="1" fill="#000"/>
<rect x="1166" y="101" width="2" height="1" fill="#000"/>
<rect x="1166" y="134" width="2" height="1" fill="#000"/>
<rect x="1166" y="167" width="2" height="1" fill="#000"/>
<rect x="1166" y="200" width="2" height="1" fill="#000"/>
<rect x="1166" y="233" width="2" height="1" fill="#000"/>
<rect x="1166" y="266" width="2" height="1" fill="#000"/>
<rect x="1166" y="299" width="2" height="1" fill="#000"/>
<rect x="1166" y="332" width="2" height="1" fill="#000"/>
<rect x="1166" y="365" width="2" height="1" fill="#000"/>
<rect x="1166" y="398" width="2" height="1" fill="#000"/>
</g>
<text transform="translate(1171 38.6) scale(0.877 1)" font-size="10.2" fill="#000" stroke="#000" stroke-width="0.12" xml:space="preserve">0.93740</text>
<text transform="translate(1171 71.6) scale(0.877 1)" font-size="10.2" fill="#000" stroke="#000" stroke-width="0.12" xml:space="preserve">0.93410</text>
<text transform="translate(1171 104.6) scale(0.877 1)" font-size="10.2" fill="#000" stroke="#000" stroke-width="0.12" xml:space="preserve">0.93080</text>
<text transform="translate(1171 137.6) scale(0.877 1)" font-size="10.2" fill="#000" stroke="#000" stroke-width="0.12" xml:space="preserve">0.92750</text>
<text transform="translate(1171 170.6) scale(0.877 1)" font-size="10.2" fill="#000" stroke="#000" stroke-width="0.12" xml:space="preserve">0.92420</text>
<text transform="translate(1171 203.6) scale(0.877 1)" font-size="10.2" fill="#000" stroke="#000" stroke-width="0.12" xml:space="preserve">0.92090</text>
<text transform="translate(1171 236.6) scale(0.877 1)" font-size="10.2" fill="#000" stroke="#000" stroke-width="0.12" xml:space="preserve">0.91755</text>
<text transform="translate(1171 269.6) scale(0.877 1)" font-size="10.2" fill="#000" stroke="#000" stroke-width="0.12" xml:space="preserve">0.91425</text>
<text transform="translate(1171 302.6) scale(0.877 1)" font-size="10.2" fill="#000" stroke="#000" stroke-width="0.12" xml:space="preserve">0.91095</text>
<text transform="translate(1171 335.6) scale(0.877 1)" font-size="10.2" fill="#000" stroke="#000" stroke-width="0.12" xml:space="preserve">0.90765</text>
<text transform="translate(1171 368.6) scale(0.877 1)" font-size="10.2" fill="#000" stroke="#000" stroke-width="0.12" xml:space="preserve">0.90435</text>
<text transform="translate(1171 401.6) scale(0.877 1)" font-size="10.2" fill="#000" stroke="#000" stroke-width="0.12" xml:space="preserve">0.90105</text>
<g shape-rendering="crispEdges">
<rect x="1166" y="101" width="40" height="3" fill="#000"/>
<rect x="1167" y="103" width="39" height="11" fill="#ff0000"/>
<rect x="1159" y="106" width="6" height="6" fill="#ff0000"/><rect x="1161" y="108" width="2" height="2" fill="#fff"/>
<rect x="2" y="106" width="6" height="6" fill="#ff0000"/><rect x="4" y="108" width="2" height="2" fill="#fff"/>
<rect x="1167" y="164" width="39" height="11" fill="#ff0000"/>
<rect x="1159" y="167" width="6" height="6" fill="#ff0000"/><rect x="1161" y="169" width="2" height="2" fill="#fff"/>
<rect x="2" y="167" width="6" height="6" fill="#ff0000"/><rect x="4" y="169" width="2" height="2" fill="#fff"/>
<rect x="1167" y="223" width="39" height="11" fill="#00ff00"/>
<rect x="1159" y="226" width="6" height="6" fill="#00ff00"/><rect x="1161" y="228" width="2" height="2" fill="#fff"/>
<rect x="2" y="226" width="6" height="6" fill="#00ff00"/><rect x="4" y="228" width="2" height="2" fill="#fff"/>
<rect x="1167" y="282" width="39" height="11" fill="#0000ff"/>
<rect x="1167" y="352" width="39" height="11" fill="#0000ff"/>
<rect x="1159" y="355" width="6" height="6" fill="#0000ff"/><rect x="1161" y="357" width="2" height="2" fill="#fff"/>
<rect x="2" y="355" width="6" height="6" fill="#0000ff"/><rect x="4" y="357" width="2" height="2" fill="#fff"/>
</g>
<text transform="translate(1171 111.9) scale(0.877 1)" font-size="10.2" fill="#fff"  xml:space="preserve">0.93001</text>
<text transform="translate(1171 172.9) scale(0.877 1)" font-size="10.2" fill="#fff"  xml:space="preserve">0.92394</text>
<text transform="translate(1171 231.9) scale(0.877 1)" font-size="10.2" fill="#fff"  xml:space="preserve">0.91802</text>
<text transform="translate(1171 290.9) scale(0.877 1)" font-size="10.2" fill="#fff"  xml:space="preserve">0.91206</text>
<text transform="translate(1171 360.9) scale(0.877 1)" font-size="10.2" fill="#fff"  xml:space="preserve">0.90509</text>
<path d="M6.2,34.3 L9.6,30 L13,34.3 Z" fill="#000"/>
<text x="17.8" y="35.4" font-size="10.2" fill="#000" stroke="#000" stroke-width="0.15" textLength="58.3" lengthAdjust="spacingAndGlyphs">USDCHF-,H4</text>
<text transform="translate(81.8 35.4) scale(0.877 1)" font-size="10.2" fill="#000" stroke="#000" stroke-width="0.15" xml:space="preserve">0.93029</text>
<text transform="translate(118.0 35.4) scale(0.877 1)" font-size="10.2" fill="#000" stroke="#000" stroke-width="0.15" xml:space="preserve">0.93030</text>
<text transform="translate(153.9 35.4) scale(0.877 1)" font-size="10.2" fill="#000" stroke="#000" stroke-width="0.15" xml:space="preserve">0.93029</text>
<text transform="translate(190.0 35.4) scale(0.877 1)" font-size="10.2" fill="#000" stroke="#000" stroke-width="0.15" xml:space="preserve">0.93030</text>
<g shape-rendering="crispEdges">
<rect x="6" y="43" width="219" height="57" fill="#fff"/>
<rect x="6" y="43" width="52" height="24" fill="#0000a4"/>
<rect x="7" y="44" width="50" height="23" fill="url(#gs)"/>
<rect x="173" y="43" width="52" height="24" fill="#0000a4"/>
<rect x="174" y="44" width="50" height="23" fill="url(#gs)"/>
<rect x="6" y="67" width="109" height="33" fill="#0000a4"/>
<rect x="7" y="68" width="107" height="31" fill="url(#gp)"/>
<rect x="117" y="67" width="108" height="33" fill="#0000a4"/>
<rect x="118" y="68" width="106" height="31" fill="url(#gp)"/>
<rect x="7" y="66" width="50" height="3" fill="#3a3ae2"/>
<rect x="174" y="66" width="50" height="3" fill="#3a3ae2"/>
<rect x="10" y="66" width="44" height="1" fill="#000094"/>
<rect x="10" y="67" width="44" height="1" fill="#7c7cf6"/>
<rect x="177" y="66" width="44" height="1" fill="#000094"/>
<rect x="177" y="67" width="44" height="1" fill="#7c7cf6"/>
<rect x="60.5" y="43.5" width="110" height="21" fill="#fff" stroke="#a9a9b0"/>
<rect x="62" y="45" width="18" height="18" fill="url(#gb)"/>
<rect x="151" y="45" width="18" height="18" fill="url(#gb)"/>
<rect x="81" y="44" width="1" height="20" fill="#a9a9b0"/>
<rect x="149" y="44" width="1" height="20" fill="#a9a9b0"/>
</g>
<path d="M67.8,52 L73.2,52 L70.5,55.3 Z" fill="#3c50b4"/>
<path d="M156.8,55.3 L162.2,55.3 L159.5,52 Z" fill="#3c50b4"/>
<text transform="translate(18.4 59) scale(0.84 1)" font-size="12.5" fill="#fff"  xml:space="preserve">SELL</text>
<text transform="translate(186.2 59) scale(0.84 1)" font-size="12.5" fill="#fff"  xml:space="preserve">BUY</text>
<text x="121.8" y="58.4" font-size="12" fill="#000">0.01</text>
<text x="25.7" y="94.9" font-size="12" font-weight="bold" fill="#fff">0.93</text>
<text x="135.7" y="94.9" font-size="12" font-weight="bold" fill="#fff">0.93</text>
<text x="52.0" y="94.8" font-size="34" fill="#fff" letter-spacing="-1.8" stroke="url(#gp)" stroke-width="0.8">03</text>
<text x="162.5" y="94.8" font-size="34" fill="#fff" letter-spacing="-1.8" stroke="url(#gp)" stroke-width="0.8">05</text>
<text x="93.0" y="78.9" font-size="12" font-weight="bold" fill="#fff" stroke="url(#gp)" stroke-width="0.3">0</text>
<text x="203.6" y="78.9" font-size="12" font-weight="bold" fill="#fff" stroke="url(#gp)" stroke-width="0.3">4</text>
<g clip-path="url(#c2)">
<path d="M3.2,443 L3.2,464.3 L10.6,461.7 L21.2,459.6 L31.8,457.7 L39.8,452.4 L47.8,448.4 L54.4,444.4 L59.7,429.8 L63.7,423.2 L69.0,419.2 L75.6,412.6 L79.6,409.1 L84.9,408.1 L90.2,409.1 L95.5,412.6 L99.5,416.6 L104.8,419.2 L111.4,421.9 L116.7,427.2 L119.4,437.8 L122.0,444.4 L126.0,449.7 L130.0,455.0 L135.3,459.6 L139.3,461.7 L144.6,457.7 L151.2,455.0 L156.5,449.7 L159.2,444.4 L164.5,440.5 L169.8,439.1 L175.1,440.5 L183.1,441.8 L188.4,445.8 L193.7,449.7 L199.0,452.4 L207.0,451.1 L214.9,449.7 L221.5,445.8 L224.2,441.8 L228.2,439.1 L234.8,437.8 L238.8,444.4 L242.8,449.7 L246.7,447.1 L249.4,442.6 L254.7,441.2 L258.7,443.1 L265.3,440.5 L270.6,439.1 L275.9,441.8 L281.2,442.3 L286.5,443.6 L294.5,445.8 L301.1,447.1 L307.8,445.2 L320.6,442.6 L324.6,436.5 L329.9,431.2 L336.5,427.2 L341.8,429.8 L347.1,436.5 L352.5,441.8 L360.4,442.6 L364.4,437.8 L369.7,432.5 L376.3,432.0 L383.0,435.1 L389.6,440.5 L397.6,441.8 L402.9,437.8 L406.8,429.8 L412.1,426.7 L418.8,419.2 L424.1,413.9 L428.1,417.9 L433.4,423.2 L437.4,429.8 L441.3,437.8 L445.3,443.1 L449.3,445.8 L453.3,447.9 L458.6,444.4 L469.2,443.1 L482.5,442.6 L486.4,439.1 L493.1,439.1 L501.0,435.1 L509.0,432.5 L515.6,425.9 L522.3,423.2 L527.6,424.5 L534.2,431.2 L540.8,436.5 L546.1,441.8 L548.8,447.1 L552.8,452.4 L560.7,452.4 L566.0,447.1 L571.3,445.2 L575.3,447.1 L585.9,446.3 L591.2,443.6 L595.2,441.8 L600.5,444.4 L607.2,447.1 L615.1,445.2 L620.0,441.8 L625.3,439.1 L629.3,439.9 L631.9,443.1 L635.9,448.4 L641.2,455.0 L645.2,457.7 L651.8,455.8 L659.8,452.4 L666.4,449.7 L673.1,452.4 L679.7,454.2 L685.0,451.1 L690.3,447.9 L695.6,451.1 L704.9,456.9 L712.9,458.5 L720.8,459.0 L728.8,456.4 L734.1,449.7 L738.1,445.8 L744.7,444.4 L758.0,443.6 L761.9,448.4 L765.9,455.0 L771.2,460.4 L775.2,462.2 L779.2,456.4 L784.5,452.4 L789.8,457.7 L795.1,460.4 L800.4,457.7 L805.7,452.4 L811.0,449.7 L819.0,448.9 L827.0,448.4 L833.6,445.8 L840.2,443.6 L848.2,442.6 L858.8,444.4 L864.1,447.1 L868.1,447.1 L872.1,443.6 L874.7,437.8 L878.7,432.5 L882.7,427.2 L888.0,423.2 L895.9,421.9 L901.2,424.5 L906.5,429.3 L911.9,425.9 L918.5,423.2 L923.8,416.6 L927.2,413.9 L927.2,443 Z" fill="#c0c0c0" shape-rendering="crispEdges"/>
</g>
<text transform="translate(7 416) scale(0.915 1)" font-size="10.2" fill="#000" stroke="#000" stroke-width="0.12" xml:space="preserve">MACD(12,26,9) 0.003280 0.002497</text>
<g clip-path="url(#c2)">
<path d="M3.5,468V469M4.5,467V468M5.5,467V468M6.5,467V468M7.5,466V467M8.5,466V467M9.5,466V467M10.5,465V466M11.5,465V466M12.5,465V466M13.5,464V465M14.5,464V465M15.5,464V465M16.5,463V464M17.5,463V464M18.5,463V464M19.5,462V463M20.5,462V463M21.5,462V463M22.5,462V463M23.5,461V462M24.5,461V462M25.5,461V462M26.5,461V462M27.5,461V462M28.5,460V461M29.5,460V461M30.5,460V461M31.5,460V461M32.5,460V461M33.5,459V460M34.5,459V460M35.5,458V459M36.5,458V459M37.5,457V458M38.5,457V458M39.5,456V457M40.5,455V456M41.5,455V456M42.5,454V455M43.5,453V454M44.5,453V454M45.5,452V453M46.5,451V452M47.5,451V452M48.5,450V451M49.5,450V451M50.5,449V450M51.5,448V449M52.5,448V449M53.5,447V448M54.5,447V448M55.5,446V447M56.5,445V446M57.5,445V446M58.5,444V445M59.5,443V444M60.5,441V443M61.5,440V441M62.5,438V440M63.5,436V438M64.5,435V436M65.5,433V435M66.5,431V433M67.5,430V431M68.5,428V430M69.5,427V428M70.5,425V427M71.5,424V425M72.5,422V424M73.5,421V422M74.5,420V421M75.5,418V420M76.5,417V418M77.5,415V417M78.5,414V415M79.5,413V414M80.5,412V413M81.5,411V412M82.5,411V412M83.5,410V411M84.5,410V411M85.5,410V411M86.5,409V410M87.5,409V410M88.5,409V410M89.5,409V410M90.5,409V410M91.5,409V410M92.5,409V410M93.5,409V410M94.5,409V410M95.5,409V410M96.5,410V411M97.5,410V411M98.5,410V411M99.5,411V412M100.5,411V412M101.5,412V413M102.5,412V413M103.5,413V414M104.5,414V415M105.5,414V415M106.5,415V416M107.5,416V417M108.5,416V417M109.5,417V418M110.5,417V418M111.5,418V419M112.5,419V420M113.5,420V421M114.5,420V421M115.5,421V422M116.5,422V423M117.5,423V425M118.5,425V426M119.5,426V427M120.5,427V428M121.5,428V430M122.5,430V431M123.5,431V433M124.5,433V435M125.5,435V436M126.5,436V438M127.5,438V440M128.5,440V442M129.5,442V443M130.5,443V445M131.5,445V446M132.5,446V448M133.5,448V449M134.5,449V451M135.5,451V452M136.5,452V453M137.5,453V454M138.5,454V455M139.5,454V455M140.5,455V456M141.5,456V457M142.5,456V457M143.5,457V458M144.5,457V458M145.5,457V458M146.5,457V458M147.5,457V458M148.5,457V458M149.5,456V457M150.5,456V457M151.5,456V457M152.5,455V456M153.5,455V456M154.5,454V455M155.5,454V455M156.5,453V454M157.5,452V453M158.5,452V453M159.5,451V452M160.5,450V451M161.5,449V450M162.5,449V450M163.5,448V449M164.5,447V448M165.5,446V447M166.5,445V446M167.5,444V445M168.5,443V444M169.5,443V444M170.5,442V443M171.5,442V443M172.5,441V442M173.5,441V442M174.5,441V442M175.5,440V441M176.5,440V441M177.5,440V441M178.5,440V441M179.5,440V441M180.5,440V441M181.5,440V441M182.5,440V441M183.5,440V441M184.5,440V441M185.5,440V441M186.5,440V441M187.5,440V441M188.5,440V441M189.5,440V441M190.5,441V442M191.5,441V442M192.5,442V443M193.5,443V444M194.5,443V444M195.5,444V445M196.5,445V446M197.5,445V446M198.5,446V447M199.5,447V448M200.5,447V448M201.5,448V449M202.5,448V449M203.5,449V450M204.5,449V450M205.5,450V451M206.5,450V451M207.5,450V451M208.5,451V452M209.5,451V452M210.5,451V452M211.5,451V452M212.5,451V452M213.5,451V452M214.5,451V452M215.5,451V452M216.5,450V451M217.5,450V451M218.5,450V451M219.5,449V450M220.5,449V450M221.5,449V450M222.5,448V449M223.5,448V449M224.5,447V448M225.5,446V447M226.5,446V447M227.5,445V446M228.5,445V446M229.5,444V445M230.5,443V444M231.5,443V444M232.5,442V443M233.5,441V442M234.5,441V442M235.5,441V442M236.5,440V441M237.5,440V441M238.5,440V441M239.5,440V441M240.5,440V441M241.5,440V441M242.5,440V441M243.5,441V442M244.5,441V442M245.5,442V443M246.5,443V444M247.5,444V445M248.5,444V445M249.5,445V446M250.5,445V446M251.5,445V446M252.5,445V446M253.5,445V446M254.5,445V446M255.5,445V446M256.5,445V446M257.5,445V446M258.5,444V445M259.5,444V445M260.5,443V444M261.5,443V444M262.5,443V444M263.5,442V443M264.5,442V443M265.5,442V443M266.5,442V443M267.5,441V442M268.5,441V442M269.5,441V442M270.5,441V442M271.5,441V442M272.5,440V441M273.5,440V441M274.5,440V441M275.5,440V441M276.5,440V441M277.5,440V441M278.5,440V441M279.5,440V441M280.5,440V441M281.5,440V441M282.5,440V441M283.5,440V441M284.5,440V441M285.5,440V441M286.5,440V441M287.5,440V441M288.5,441V442M289.5,441V442M290.5,442V443M291.5,442V443M292.5,442V443M293.5,443V444M294.5,443V444M295.5,443V444M296.5,444V445M297.5,444V445M298.5,444V445M299.5,444V445M300.5,445V446M301.5,445V446M302.5,445V446M303.5,445V446M304.5,445V446M305.5,445V446M306.5,445V446M307.5,445V446M308.5,445V446M309.5,445V446M310.5,445V446M311.5,445V446M312.5,445V446M313.5,445V446M314.5,445V446M315.5,444V445M316.5,444V445M317.5,444V445M318.5,444V445M319.5,444V445M320.5,444V445M321.5,444V445M322.5,444V445M323.5,443V444M324.5,443V444M325.5,442V443M326.5,442V443M327.5,441V442M328.5,441V442M329.5,440V441M330.5,439V440M331.5,439V440M332.5,438V439M333.5,438V439M334.5,437V438M335.5,436V437M336.5,435V436M337.5,434V435M338.5,433V434M339.5,432V433M340.5,431V432M341.5,431V432M342.5,431V432M343.5,431V432M344.5,431V432M345.5,431V432M346.5,431V432M347.5,431V432M348.5,431V432M349.5,431V432M350.5,431V432M351.5,431V432M352.5,432V433M353.5,433V434M354.5,434V435M355.5,435V436M356.5,436V437M357.5,437V438M358.5,438V439M359.5,439V440M360.5,439V440M361.5,440V441M362.5,440V441M363.5,440V441M364.5,440V441M365.5,440V441M366.5,440V441M367.5,440V441M368.5,439V440M369.5,439V440M370.5,439V440M371.5,438V439M372.5,438V439M373.5,437V438M374.5,437V438M375.5,436V437M376.5,436V437M377.5,435V436M378.5,435V436M379.5,435V436M380.5,434V435M381.5,434V435M382.5,434V435M383.5,434V435M384.5,434V435M385.5,434V435M386.5,434V435M387.5,434V435M388.5,434V435M389.5,435V436M390.5,435V436M391.5,436V437M392.5,436V437M393.5,437V438M394.5,437V438M395.5,438V439M396.5,438V439M397.5,438V439M398.5,439V440M399.5,439V440M400.5,440V441M401.5,440V441M402.5,440V441M403.5,440V441M404.5,440V441M405.5,439V440M406.5,439V440M407.5,438V439M408.5,438V439M409.5,437V438M410.5,437V438M411.5,436V437M412.5,434V436M413.5,433V434M414.5,432V433M415.5,431V432M416.5,429V431M417.5,428V429M418.5,427V428M419.5,426V427M420.5,425V426M421.5,424V425M422.5,423V424M423.5,422V423M424.5,421V422M425.5,420V421M426.5,419V420M427.5,419V420M428.5,419V420M429.5,418V419M430.5,418V419M431.5,418V419M432.5,418V419M433.5,418V419M434.5,418V419M435.5,418V419M436.5,419V420M437.5,419V420M438.5,420V421M439.5,421V422M440.5,422V423M441.5,423V424M442.5,424V425M443.5,425V427M444.5,427V428M445.5,428V429M446.5,429V431M447.5,431V432M448.5,432V434M449.5,434V435M450.5,435V436M451.5,436V438M452.5,438V439M453.5,439V440M454.5,440V441M455.5,441V442M456.5,442V443M457.5,443V444M458.5,443V444M459.5,443V444M460.5,444V445M461.5,444V445M462.5,444V445M463.5,444V445M464.5,445V446M465.5,445V446M466.5,445V446M467.5,445V446M468.5,445V446M469.5,445V446M470.5,445V446M471.5,444V445M472.5,444V445M473.5,444V445M474.5,444V445M475.5,444V445M476.5,444V445M477.5,444V445M478.5,444V445M479.5,444V445M480.5,444V445M481.5,444V445M482.5,444V445M483.5,444V445M484.5,444V445M485.5,444V445M486.5,443V444M487.5,443V444M488.5,443V444M489.5,443V444M490.5,442V443M491.5,442V443M492.5,442V443M493.5,441V442M494.5,441V442M495.5,441V442M496.5,440V441M497.5,440V441M498.5,440V441M499.5,439V440M500.5,439V440M501.5,439V440M502.5,439V440M503.5,438V439M504.5,438V439M505.5,438V439M506.5,437V438M507.5,437V438M508.5,437V438M509.5,436V437M510.5,436V437M511.5,435V436M512.5,435V436M513.5,434V435M514.5,434V435M515.5,433V434M516.5,433V434M517.5,432V433M518.5,431V432M519.5,431V432M520.5,430V431M521.5,429V430M522.5,429V430M523.5,428V429M524.5,427V428M525.5,427V428M526.5,426V427M527.5,426V427M528.5,425V426M529.5,425V426M530.5,425V426M531.5,425V426M532.5,425V426M533.5,425V426M534.5,425V426M535.5,426V427M536.5,426V427M537.5,427V428M538.5,428V429M539.5,428V429M540.5,429V430M541.5,430V431M542.5,431V432M543.5,431V432M544.5,432V433M545.5,433V434M546.5,434V435M547.5,435V436M548.5,436V437M549.5,437V438M550.5,438V439M551.5,439V440M552.5,440V441M553.5,441V442M554.5,442V443M555.5,443V444M556.5,444V445M557.5,445V446M558.5,446V447M559.5,447V448M560.5,448V449M561.5,449V450M562.5,450V451M563.5,450V451M564.5,451V452M565.5,451V452M566.5,451V452M567.5,451V452M568.5,451V452M569.5,451V452M570.5,450V451M571.5,450V451M572.5,450V451M573.5,449V450M574.5,448V449M575.5,448V449M576.5,447V448M577.5,447V448M578.5,447V448M579.5,446V447M580.5,446V447M581.5,446V447M582.5,446V447M583.5,446V447M584.5,446V447M585.5,446V447M586.5,446V447M587.5,446V447M588.5,446V447M589.5,446V447M590.5,446V447M591.5,445V446M592.5,445V446M593.5,445V446M594.5,445V446M595.5,445V446M596.5,445V446M597.5,445V446M598.5,444V445M599.5,444V445M600.5,444V445M601.5,445V446M602.5,445V446M603.5,445V446M604.5,445V446M605.5,445V446M606.5,445V446M607.5,445V446M608.5,445V446M609.5,445V446M610.5,445V446M611.5,445V446M612.5,445V446M613.5,445V446M614.5,445V446M615.5,445V446M616.5,445V446M617.5,444V445M618.5,444V445M619.5,444V445M620.5,444V445M621.5,444V445M622.5,443V444M623.5,443V444M624.5,443V444M625.5,442V443M626.5,442V443M627.5,442V443M628.5,442V443M629.5,442V443M630.5,442V443M631.5,442V443M632.5,442V443M633.5,442V443M634.5,442V443M635.5,442V443M636.5,442V443M637.5,442V443M638.5,443V444M639.5,443V444M640.5,444V445M641.5,445V446M642.5,446V448M643.5,448V449M644.5,448V449M645.5,449V450M646.5,450V451M647.5,451V452M648.5,452V453M649.5,452V453M650.5,453V454M651.5,453V454M652.5,454V455M653.5,454V455M654.5,454V455M655.5,455V456M656.5,455V456M657.5,455V456M658.5,455V456M659.5,455V456M660.5,455V456M661.5,455V456M662.5,454V455M663.5,454V455M664.5,454V455M665.5,453V454M666.5,453V454M667.5,453V454M668.5,452V453M669.5,452V453M670.5,452V453M671.5,451V452M672.5,451V452M673.5,451V452M674.5,451V452M675.5,451V452M676.5,451V452M677.5,451V452M678.5,451V452M679.5,451V452M680.5,451V452M681.5,451V452M682.5,451V452M683.5,451V452M684.5,451V452M685.5,451V452M686.5,451V452M687.5,451V452M688.5,451V452M689.5,451V452M690.5,451V452M691.5,451V452M692.5,451V452M693.5,451V452M694.5,451V452M695.5,451V452M696.5,451V452M697.5,451V452M698.5,451V452M699.5,451V452M700.5,451V452M701.5,451V452M702.5,451V452M703.5,451V452M704.5,452V453M705.5,452V453M706.5,453V454M707.5,453V454M708.5,454V455M709.5,454V455M710.5,455V456M711.5,455V456M712.5,456V457M713.5,456V457M714.5,456V457M715.5,457V458M716.5,457V458M717.5,457V458M718.5,457V458M719.5,458V459M720.5,458V459M721.5,458V459M722.5,458V459M723.5,458V459M724.5,458V459M725.5,458V459M726.5,458V459M727.5,458V459M728.5,457V458M729.5,457V458M730.5,457V458M731.5,456V457M732.5,455V456M733.5,455V456M734.5,454V455M735.5,454V455M736.5,453V454M737.5,452V453M738.5,452V453M739.5,451V452M740.5,450V451M741.5,450V451M742.5,449V450M743.5,448V449M744.5,447V448M745.5,446V447M746.5,446V447M747.5,445V446M748.5,445V446M749.5,445V446M750.5,444V445M751.5,444V445M752.5,444V445M753.5,444V445M754.5,444V445M755.5,444V445M756.5,444V445M757.5,444V445M758.5,444V445M759.5,444V445M760.5,444V445M761.5,444V445M762.5,445V446M763.5,445V446M764.5,445V446M765.5,446V447M766.5,446V447M767.5,447V448M768.5,448V449M769.5,449V450M770.5,450V451M771.5,451V452M772.5,452V453M773.5,452V453M774.5,453V454M775.5,454V455M776.5,455V456M777.5,455V456M778.5,456V457M779.5,456V457M780.5,456V457M781.5,456V457M782.5,456V457M783.5,456V457M784.5,456V457M785.5,456V457M786.5,456V457M787.5,456V457M788.5,456V457M789.5,455V456M790.5,455V456M791.5,455V456M792.5,455V456M793.5,455V456M794.5,455V456M795.5,455V456M796.5,455V456M797.5,455V456M798.5,456V457M799.5,456V457M800.5,456V457M801.5,456V457M802.5,456V457M803.5,456V457M804.5,456V457M805.5,456V457M806.5,455V456M807.5,455V456M808.5,454V455M809.5,454V455M810.5,453V454M811.5,453V454M812.5,453V454M813.5,452V453M814.5,452V453M815.5,452V453M816.5,451V452M817.5,451V452M818.5,451V452M819.5,450V451M820.5,450V451M821.5,450V451M822.5,450V451M823.5,450V451M824.5,450V451M825.5,449V450M826.5,449V450M827.5,449V450M828.5,449V450M829.5,449V450M830.5,448V449M831.5,448V449M832.5,448V449M833.5,448V449M834.5,447V448M835.5,447V448M836.5,446V447M837.5,446V447M838.5,446V447M839.5,445V446M840.5,445V446M841.5,445V446M842.5,445V446M843.5,444V445M844.5,444V445M845.5,444V445M846.5,444V445M847.5,443V444M848.5,443V444M849.5,443V444M850.5,443V444M851.5,443V444M852.5,443V444M853.5,443V444M854.5,443V444M855.5,443V444M856.5,443V444M857.5,443V444M858.5,443V444M859.5,443V444M860.5,443V444M861.5,443V444M862.5,443V444M863.5,443V444M864.5,444V445M865.5,444V445M866.5,444V445M867.5,444V445M868.5,445V446M869.5,445V446M870.5,445V446M871.5,445V446M872.5,444V445M873.5,444V445M874.5,444V445M875.5,444V445M876.5,443V444M877.5,443V444M878.5,443V444M879.5,442V443M880.5,441V442M881.5,441V442M882.5,440V441M883.5,439V440M884.5,438V439M885.5,437V438M886.5,436V437M887.5,435V436M888.5,433V435M889.5,432V433M890.5,431V432M891.5,430V431M892.5,429V430M893.5,428V429M894.5,427V428M895.5,426V427M896.5,425V426M897.5,425V426M898.5,424V425M899.5,424V425M900.5,424V425M901.5,424V425M902.5,424V425M903.5,424V425M904.5,424V425M905.5,424V425M906.5,424V425M907.5,424V425M908.5,424V425M909.5,425V426M910.5,425V426M911.5,425V426M912.5,425V426M913.5,425V426M914.5,425V426M915.5,425V426M916.5,425V426M917.5,425V426M918.5,425V426M919.5,424V425M920.5,424V425M921.5,424V425M922.5,424V425M923.5,423V424M924.5,423V424M925.5,422V423M926.5,422V423M927.5,421V422" stroke="#ff0000" stroke-width="1" fill="none" shape-rendering="crispEdges"/>
</g>
<text transform="translate(1169 413.7) scale(0.877 1)" font-size="10.2" fill="#000" stroke="#000" stroke-width="0.12" xml:space="preserve">0.00436</text>
<text transform="translate(1169 446.5) scale(0.877 1)" font-size="10.2" fill="#000" stroke="#000" stroke-width="0.12" xml:space="preserve">0.00</text>
<text transform="translate(1169 468.5) scale(0.877 1)" font-size="10.2" fill="#000" stroke="#000" stroke-width="0.12" xml:space="preserve">-0.003237</text>
<g shape-rendering="crispEdges"><rect x="1166" y="404" width="2" height="1" fill="#000"/><rect x="1166" y="443" width="2" height="1" fill="#000"/><rect x="1166" y="471" width="2" height="1" fill="#000"/><rect x="1166" y="475" width="2" height="1" fill="#000"/><rect x="1166" y="496" width="2" height="1" fill="#000"/><rect x="1166" y="524" width="2" height="1" fill="#000"/><rect x="1166" y="544" width="2" height="1" fill="#000"/></g>
<g clip-path="url(#c3)">
<path d="M4,496.5H1165M4,524.5H1165" stroke="#c0c0c0" stroke-width="1" stroke-dasharray="3,3" shape-rendering="crispEdges" fill="none"/>
<path d="M2.5,525V526M3.5,525V526M4.5,526V527M5.5,526V527M6.5,526V527M7.5,527V528M8.5,527V528M9.5,527V528M10.5,526V527M11.5,526V527M12.5,526V527M13.5,526V527M14.5,526V527M15.5,526V527M16.5,527V528M17.5,528V530M18.5,530V531M19.5,527V530M20.5,522V527M21.5,521V522M22.5,521V522M23.5,521V522M24.5,522V523M25.5,522V523M26.5,523V524M27.5,522V523M28.5,521V522M29.5,519V521M30.5,517V519M31.5,515V517M32.5,513V515M33.5,512V513M34.5,511V512M35.5,510V511M36.5,509V510M37.5,508V509M38.5,507V508M39.5,508V510M40.5,510V512M41.5,512V513M42.5,513V514M43.5,511V513M44.5,509V511M45.5,509V510M46.5,509V510M47.5,508V510M48.5,507V508M49.5,506V507M50.5,506V507M51.5,507V508M52.5,508V509M53.5,506V508M54.5,503V506M55.5,499V503M56.5,495V499M57.5,493V495M58.5,492V493M59.5,492V493M60.5,492V493M61.5,492V493M62.5,493V494M63.5,493V494M64.5,492V493M65.5,492V493M66.5,491V492M67.5,491V492M68.5,490V491M69.5,490V491M70.5,489V490M71.5,488V489M72.5,489V490M73.5,490V491M74.5,491V492M75.5,491V492M76.5,491V492M77.5,490V491M78.5,490V491M79.5,490V491M80.5,489V490M81.5,489V490M82.5,489V490M83.5,489V490M84.5,489V490M85.5,489V490M86.5,489V490M87.5,489V490M88.5,489V490M89.5,489V490M90.5,490V491M91.5,491V495M92.5,495V497M93.5,497V498M94.5,497V498M95.5,497V498M96.5,497V498M97.5,498V499M98.5,498V499M99.5,498V499M100.5,498V499M101.5,498V499M102.5,497V498M103.5,497V498M104.5,496V497M105.5,495V496M106.5,495V496M107.5,495V496M108.5,496V497M109.5,496V497M110.5,496V497M111.5,496V497M112.5,496V497M113.5,497V499M114.5,499V504M115.5,504V510M116.5,510V516M117.5,516V520M118.5,520V521M119.5,521V522M120.5,521V522M121.5,520V521M122.5,519V520M123.5,519V520M124.5,520V521M125.5,521V522M126.5,522V523M127.5,523V524M128.5,524V525M129.5,525V526M130.5,525V526M131.5,525V526M132.5,524V525M133.5,523V524M134.5,522V523M135.5,522V523M136.5,523V525M137.5,524V525M138.5,525V526M139.5,521V525M140.5,516V521M141.5,514V516M142.5,513V514M143.5,513V514M144.5,513V514M145.5,513V514M146.5,514V515M147.5,514V515M148.5,515V516M149.5,514V515M150.5,510V514M151.5,507V510M152.5,506V507M153.5,507V508M154.5,508V509M155.5,506V508M156.5,505V506M157.5,504V505M158.5,503V504M159.5,503V505M160.5,505V508M161.5,508V509M162.5,508V509M163.5,508V509M164.5,508V509M165.5,507V508M166.5,506V507M167.5,505V506M168.5,505V506M169.5,506V508M170.5,508V510M171.5,509V510M172.5,509V510M173.5,508V509M174.5,507V508M175.5,507V508M176.5,507V508M177.5,507V508M178.5,508V509M179.5,508V509M180.5,508V509M181.5,509V510M182.5,510V511M183.5,511V513M184.5,513V514M185.5,512V514M186.5,510V512M187.5,510V512M188.5,512V514M189.5,514V516M190.5,516V517M191.5,516V517M192.5,517V518M193.5,517V518M194.5,517V518M195.5,516V517M196.5,516V517M197.5,516V517M198.5,517V518M199.5,516V517M200.5,516V517M201.5,515V516M202.5,515V516M203.5,514V515M204.5,513V514M205.5,512V513M206.5,511V512M207.5,511V512M208.5,511V512M209.5,511V512M210.5,512V513M211.5,512V513M212.5,512V513M213.5,513V514M214.5,513V514M215.5,513V514M216.5,513V514M217.5,512V513M218.5,511V512M219.5,509V511M220.5,508V509M221.5,506V508M222.5,505V506M223.5,504V505M224.5,503V504M225.5,502V503M226.5,502V503M227.5,501V502M228.5,502V503M229.5,503V504M230.5,503V504M231.5,504V505M232.5,504V505M233.5,504V505M234.5,504V505M235.5,504V510M236.5,510V517M237.5,517V519M238.5,519V520M239.5,519V520M240.5,520V521M241.5,519V520M242.5,519V520M243.5,516V519M244.5,513V516M245.5,511V513M246.5,509V511M247.5,507V509M248.5,506V507M249.5,506V507M250.5,505V506M251.5,505V506M252.5,505V506M253.5,506V507M254.5,507V508M255.5,508V509M256.5,509V510M257.5,510V512M258.5,512V514M259.5,513V515M260.5,510V513M261.5,509V510M262.5,508V509M263.5,508V509M264.5,507V508M265.5,506V507M266.5,505V506M267.5,504V505M268.5,504V505M269.5,505V506M270.5,506V508M271.5,508V510M272.5,510V511M273.5,511V512M274.5,510V511M275.5,510V511M276.5,510V511M277.5,510V511M278.5,510V511M279.5,510V511M280.5,510V511M281.5,510V511M282.5,510V511M283.5,510V511M284.5,510V511M285.5,510V511M286.5,511V513M287.5,512V513M288.5,513V514M289.5,513V514M290.5,512V513M291.5,512V513M292.5,512V513M293.5,512V513M294.5,511V512M295.5,512V513M296.5,513V514M297.5,513V514M298.5,514V515M299.5,513V514M300.5,512V513M301.5,511V512M302.5,510V511M303.5,509V510M304.5,508V509M305.5,507V508M306.5,507V508M307.5,507V508M308.5,507V508M309.5,508V509M310.5,508V509M311.5,509V510M312.5,510V511M313.5,511V512M314.5,512V513M315.5,513V514M316.5,513V514M317.5,513V515M318.5,510V513M319.5,506V510M320.5,503V506M321.5,501V503M322.5,499V501M323.5,498V499M324.5,498V499M325.5,498V499M326.5,498V499M327.5,498V499M328.5,498V499M329.5,498V499M330.5,497V498M331.5,496V497M332.5,495V496M333.5,495V496M334.5,495V496M335.5,495V496M336.5,496V497M337.5,497V499M338.5,499V501M339.5,501V503M340.5,503V506M341.5,506V509M342.5,509V511M343.5,511V512M344.5,512V513M345.5,512V513M346.5,513V514M347.5,513V514M348.5,514V515M349.5,513V514M350.5,513V514M351.5,513V514M352.5,514V515M353.5,514V515M354.5,512V514M355.5,511V512M356.5,509V511M357.5,509V510M358.5,508V509M359.5,508V509M360.5,508V509M361.5,507V508M362.5,506V507M363.5,505V506M364.5,503V505M365.5,500V503M366.5,497V500M367.5,496V498M368.5,498V501M369.5,501V503M370.5,502V503M371.5,502V503M372.5,502V503M373.5,502V503M374.5,502V503M375.5,503V504M376.5,503V504M377.5,504V505M378.5,504V505M379.5,505V507M380.5,507V509M381.5,508V509M382.5,509V510M383.5,509V510M384.5,509V510M385.5,509V510M386.5,509V510M387.5,510V511M388.5,511V512M389.5,512V513M390.5,513V515M391.5,515V516M392.5,511V515M393.5,510V511M394.5,509V510M395.5,509V510M396.5,509V510M397.5,508V509M398.5,508V509M399.5,507V508M400.5,504V507M401.5,502V504M402.5,500V502M403.5,499V500M404.5,498V499M405.5,497V498M406.5,496V497M407.5,495V496M408.5,494V495M409.5,495V496M410.5,495V496M411.5,496V497M412.5,496V497M413.5,496V497M414.5,495V497M415.5,494V495M416.5,492V494M417.5,491V492M418.5,490V491M419.5,490V491M420.5,490V491M421.5,490V491M422.5,490V491M423.5,490V491M424.5,491V492M425.5,492V494M426.5,494V497M427.5,497V501M428.5,501V505M429.5,505V506M430.5,505V506M431.5,505V506M432.5,506V507M433.5,506V507M434.5,506V507M435.5,507V508M436.5,508V511M437.5,511V513M438.5,513V514M439.5,514V515M440.5,515V516M441.5,515V516M442.5,516V517M443.5,515V516M444.5,515V516M445.5,514V515M446.5,513V514M447.5,513V514M448.5,514V516M449.5,516V517M450.5,517V518M451.5,517V518M452.5,517V518M453.5,513V517M454.5,509V513M455.5,508V509M456.5,507V508M457.5,507V508M458.5,507V508M459.5,507V508M460.5,508V509M461.5,509V510M462.5,509V510M463.5,510V511M464.5,511V512M465.5,511V512M466.5,512V513M467.5,513V514M468.5,512V513M469.5,511V512M470.5,511V512M471.5,511V512M472.5,511V512M473.5,511V512M474.5,511V512M475.5,511V512M476.5,511V512M477.5,510V511M478.5,510V511M479.5,509V510M480.5,509V510M481.5,510V511M482.5,508V510M483.5,505V508M484.5,502V505M485.5,500V502M486.5,500V501M487.5,501V503M488.5,503V507M489.5,507V509M490.5,509V510M491.5,509V510M492.5,509V510M493.5,508V509M494.5,506V508M495.5,504V506M496.5,503V504M497.5,504V505M498.5,505V506M499.5,505V506M500.5,504V505M501.5,503V504M502.5,502V503M503.5,502V503M504.5,501V502M505.5,501V502M506.5,501V502M507.5,501V502M508.5,501V502M509.5,500V501M510.5,500V501M511.5,496V500M512.5,494V496M513.5,493V494M514.5,492V493M515.5,492V493M516.5,492V494M517.5,494V496M518.5,496V497M519.5,496V497M520.5,496V497M521.5,496V497M522.5,495V496M523.5,494V496M524.5,496V499M525.5,499V502M526.5,502V505M527.5,505V506M528.5,505V506M529.5,505V506M530.5,505V506M531.5,506V507M532.5,506V507M533.5,507V508M534.5,508V509M535.5,509V510M536.5,510V511M537.5,510V511M538.5,511V512M539.5,511V512M540.5,511V512M541.5,510V511M542.5,510V511M543.5,510V511M544.5,511V512M545.5,512V514M546.5,514V518M547.5,518V520M548.5,520V521M549.5,521V522M550.5,521V522M551.5,521V522M552.5,520V521M553.5,518V520M554.5,517V518M555.5,516V517M556.5,516V517M557.5,515V516M558.5,515V516M559.5,514V515M560.5,514V515M561.5,513V514M562.5,512V513M563.5,510V512M564.5,510V511M565.5,509V510M566.5,509V510M567.5,508V509M568.5,506V508M569.5,505V506M570.5,506V508M571.5,508V510M572.5,510V511M573.5,511V513M574.5,513V514M575.5,513V514M576.5,513V514M577.5,512V513M578.5,512V513M579.5,512V513M580.5,513V514M581.5,514V515M582.5,515V516M583.5,515V516M584.5,513V515M585.5,511V513M586.5,510V511M587.5,509V510M588.5,508V509M589.5,507V508M590.5,507V508M591.5,507V508M592.5,507V508M593.5,507V508M594.5,508V510M595.5,510V511M596.5,511V513M597.5,513V514M598.5,514V515M599.5,513V514M600.5,512V513M601.5,511V512M602.5,510V511M603.5,511V512M604.5,512V513M605.5,513V514M606.5,514V515M607.5,514V515M608.5,514V515M609.5,513V514M610.5,511V513M611.5,510V511M612.5,510V511M613.5,511V512M614.5,511V512M615.5,511V512M616.5,511V512M617.5,510V511M618.5,509V511M619.5,507V509M620.5,505V507M621.5,503V505M622.5,503V504M623.5,502V503M624.5,502V503M625.5,503V504M626.5,504V506M627.5,506V507M628.5,506V507M629.5,507V509M630.5,509V512M631.5,512V514M632.5,514V517M633.5,517V519M634.5,519V520M635.5,520V521M636.5,520V521M637.5,520V521M638.5,521V523M639.5,523V524M640.5,524V525M641.5,525V526M642.5,525V526M643.5,523V525M644.5,520V523M645.5,518V520M646.5,517V518M647.5,516V517M648.5,515V516M649.5,515V516M650.5,516V517M651.5,516V517M652.5,515V516M653.5,515V516M654.5,514V515M655.5,513V514M656.5,514V515M657.5,514V515M658.5,515V516M659.5,515V516M660.5,514V515M661.5,513V514M662.5,512V513M663.5,511V512M664.5,510V511M665.5,509V510M666.5,510V512M667.5,512V513M668.5,513V514M669.5,514V515M670.5,514V515M671.5,514V515M672.5,514V515M673.5,515V516M674.5,516V517M675.5,517V519M676.5,519V520M677.5,520V521M678.5,520V521M679.5,518V520M680.5,514V518M681.5,513V514M682.5,512V513M683.5,511V512M684.5,511V512M685.5,510V511M686.5,509V510M687.5,509V510M688.5,508V509M689.5,507V508M690.5,508V509M691.5,509V511M692.5,511V514M693.5,514V518M694.5,518V519M695.5,519V520M696.5,519V520M697.5,519V520M698.5,519V520M699.5,519V520M700.5,517V519M701.5,516V517M702.5,517V519M703.5,519V520M704.5,519V520M705.5,519V520M706.5,518V519M707.5,518V519M708.5,517V518M709.5,517V518M710.5,518V519M711.5,518V519M712.5,519V520M713.5,519V520M714.5,519V520M715.5,519V520M716.5,519V520M717.5,519V520M718.5,520V521M719.5,520V521M720.5,520V521M721.5,519V520M722.5,520V521M723.5,521V522M724.5,518V521M725.5,515V518M726.5,512V515M727.5,510V512M728.5,509V510M729.5,509V510M730.5,509V510M731.5,509V510M732.5,508V509M733.5,508V509M734.5,507V508M735.5,505V507M736.5,504V505M737.5,504V506M738.5,506V508M739.5,508V510M740.5,508V509M741.5,508V509M742.5,508V509M743.5,509V510M744.5,510V511M745.5,510V511M746.5,510V511M747.5,511V512M748.5,511V513M749.5,513V514M750.5,513V514M751.5,512V513M752.5,512V513M753.5,512V513M754.5,513V514M755.5,513V514M756.5,513V514M757.5,513V514M758.5,513V514M759.5,514V515M760.5,515V516M761.5,514V516M762.5,513V514M763.5,513V516M764.5,516V521M765.5,521V523M766.5,523V524M767.5,523V524M768.5,524V525M769.5,524V525M770.5,524V525M771.5,524V525M772.5,524V525M773.5,524V525M774.5,522V524M775.5,517V522M776.5,513V517M777.5,510V513M778.5,510V511M779.5,511V512M780.5,510V511M781.5,509V510M782.5,509V510M783.5,509V510M784.5,509V510M785.5,510V512M786.5,512V515M787.5,515V517M788.5,517V519M789.5,519V520M790.5,520V521M791.5,520V521M792.5,521V522M793.5,520V521M794.5,520V521M795.5,519V520M796.5,519V520M797.5,518V519M798.5,515V518M799.5,512V515M800.5,510V512M801.5,510V511M802.5,509V510M803.5,509V510M804.5,509V510M805.5,509V510M806.5,510V511M807.5,510V511M808.5,511V512M809.5,512V513M810.5,513V514M811.5,514V515M812.5,514V515M813.5,514V515M814.5,514V515M815.5,514V515M816.5,514V515M817.5,514V515M818.5,513V514M819.5,512V513M820.5,510V512M821.5,510V511M822.5,509V510M823.5,509V510M824.5,510V511M825.5,511V512M826.5,511V512M827.5,512V513M828.5,512V513M829.5,512V513M830.5,511V512M831.5,510V511M832.5,509V510M833.5,507V509M834.5,505V507M835.5,504V506M836.5,506V509M837.5,509V511M838.5,511V512M839.5,512V513M840.5,512V513M841.5,512V513M842.5,511V512M843.5,510V511M844.5,509V510M845.5,508V509M846.5,507V508M847.5,507V508M848.5,508V509M849.5,509V510M850.5,510V511M851.5,510V511M852.5,510V511M853.5,511V512M854.5,512V513M855.5,512V513M856.5,512V513M857.5,510V512M858.5,508V510M859.5,506V508M860.5,507V510M861.5,510V512M862.5,512V514M863.5,514V515M864.5,515V516M865.5,515V516M866.5,514V515M867.5,513V514M868.5,511V513M869.5,510V511M870.5,508V510M871.5,507V508M872.5,505V507M873.5,503V505M874.5,502V503M875.5,501V502M876.5,501V502M877.5,501V502M878.5,500V501M879.5,499V500M880.5,498V499M881.5,498V499M882.5,497V498M883.5,497V498M884.5,496V497M885.5,496V497M886.5,496V497M887.5,495V496M888.5,496V497M889.5,497V498M890.5,496V497M891.5,496V497M892.5,497V499M893.5,499V500M894.5,498V499M895.5,498V499M896.5,499V500M897.5,500V501M898.5,501V502M899.5,502V503M900.5,503V504M901.5,504V506M902.5,506V507M903.5,507V508M904.5,507V508M905.5,506V507M906.5,505V506M907.5,504V505M908.5,503V504M909.5,501V503M910.5,499V501M911.5,498V499M912.5,498V499M913.5,499V500M914.5,500V501M915.5,500V501M916.5,499V500M917.5,498V499M918.5,497V498M919.5,496V497M920.5,495V496M921.5,494V495M922.5,493V494M923.5,492V493M924.5,493V494M925.5,493V494" stroke="#1e90ff" stroke-width="1" fill="none" shape-rendering="crispEdges"/>
</g>
<text transform="translate(7.3 487) scale(0.915 1)" font-size="10.2" fill="#000" stroke="#000" stroke-width="0.12" xml:space="preserve">RSI(14) 73.1779</text>
<text transform="translate(1169 484.5) scale(0.877 1)" font-size="10.2" fill="#000" stroke="#000" stroke-width="0.12" xml:space="preserve">100</text>
<text transform="translate(1169 499.5) scale(0.877 1)" font-size="10.2" fill="#000" stroke="#000" stroke-width="0.12" xml:space="preserve">70</text>
<text transform="translate(1169 527.5) scale(0.877 1)" font-size="10.2" fill="#000" stroke="#000" stroke-width="0.12" xml:space="preserve">30</text>
<text transform="translate(1169 541.5) scale(0.877 1)" font-size="10.2" fill="#000" stroke="#000" stroke-width="0.12" xml:space="preserve">0</text>
<g shape-rendering="crispEdges">
<rect x="3" y="546" width="1" height="3" fill="#000"/>
<rect x="67" y="546" width="1" height="3" fill="#000"/>
<rect x="131" y="546" width="1" height="3" fill="#000"/>
<rect x="195" y="546" width="1" height="3" fill="#000"/>
<rect x="259" y="546" width="1" height="3" fill="#000"/>
<rect x="323" y="546" width="1" height="3" fill="#000"/>
<rect x="387" y="546" width="1" height="3" fill="#000"/>
<rect x="451" y="546" width="1" height="3" fill="#000"/>
<rect x="515" y="546" width="1" height="3" fill="#000"/>
<rect x="579" y="546" width="1" height="3" fill="#000"/>
<rect x="643" y="546" width="1" height="3" fill="#000"/>
<rect x="707" y="546" width="1" height="3" fill="#000"/>
<rect x="771" y="546" width="1" height="3" fill="#000"/>
<rect x="835" y="546" width="1" height="3" fill="#000"/>
<rect x="899" y="546" width="1" height="3" fill="#000"/>
</g>
<text transform="translate(2 557.8) scale(0.943 1)" font-size="10.2" fill="#000" stroke="#000" stroke-width="0.12" xml:space="preserve">2 Aug 2021</text>
<text transform="translate(66 557.8) scale(0.943 1)" font-size="10.2" fill="#000" stroke="#000" stroke-width="0.12" xml:space="preserve">9 Aug 08:00</text>
<text transform="translate(130 557.8) scale(0.943 1)" font-size="10.2" fill="#000" stroke="#000" stroke-width="0.12" xml:space="preserve">16 Aug 16:00</text>
<text transform="translate(194 557.8) scale(0.943 1)" font-size="10.2" fill="#000" stroke="#000" stroke-width="0.12" xml:space="preserve">24 Aug 00:00</text>
<text transform="translate(258 557.8) scale(0.943 1)" font-size="10.2" fill="#000" stroke="#000" stroke-width="0.12" xml:space="preserve">31 Aug 08:00</text>
<text transform="translate(322 557.8) scale(0.943 1)" font-size="10.2" fill="#000" stroke="#000" stroke-width="0.12" xml:space="preserve">7 Sep 16:00</text>
<text transform="translate(386 557.8) scale(0.943 1)" font-size="10.2" fill="#000" stroke="#000" stroke-width="0.12" xml:space="preserve">15 Sep 00:00</text>
<text transform="translate(450 557.8) scale(0.943 1)" font-size="10.2" fill="#000" stroke="#000" stroke-width="0.12" xml:space="preserve">22 Sep 08:00</text>
<text transform="translate(514 557.8) scale(0.943 1)" font-size="10.2" fill="#000" stroke="#000" stroke-width="0.12" xml:space="preserve">29 Sep 16:00</text>
<text transform="translate(578 557.8) scale(0.943 1)" font-size="10.2" fill="#000" stroke="#000" stroke-width="0.12" xml:space="preserve">7 Oct 00:00</text>
<text transform="translate(642 557.8) scale(0.943 1)" font-size="10.2" fill="#000" stroke="#000" stroke-width="0.12" xml:space="preserve">14 Oct 08:00</text>
<text transform="translate(706 557.8) scale(0.943 1)" font-size="10.2" fill="#000" stroke="#000" stroke-width="0.12" xml:space="preserve">21 Oct 16:00</text>
<text transform="translate(770 557.8) scale(0.943 1)" font-size="10.2" fill="#000" stroke="#000" stroke-width="0.12" xml:space="preserve">29 Oct 00:00</text>
<text transform="translate(834 557.8) scale(0.943 1)" font-size="10.2" fill="#000" stroke="#000" stroke-width="0.12" xml:space="preserve">5 Nov 08:00</text>
<text transform="translate(898 557.8) scale(0.943 1)" font-size="10.2" fill="#000" stroke="#000" stroke-width="0.12" xml:space="preserve">12 Nov 16:00</text>
<g shape-rendering="crispEdges">
<rect x="0" y="566" width="1206" height="1" fill="#e6e6e6"/>
<rect x="0" y="567" width="1206" height="1" fill="#f4f4f4"/>
<rect x="0" y="569" width="1206" height="22" fill="#f0f0f0"/>
<rect x="0" y="588" width="1206" height="1" fill="#fbfbfb"/>
<rect x="0" y="568" width="1206" height="1" fill="#000"/>
<rect x="320" y="568" width="96" height="19" fill="#000"/>
<rect x="321" y="568" width="94" height="18" fill="#fff"/>
</g>
<text x="14.899999999999999" y="582.6" font-size="12.2" fill="#828282" textLength="79.10000000000001" lengthAdjust="spacingAndGlyphs">USDX,Weekly</text>
<text x="114.8" y="582.6" font-size="12.2" fill="#828282" textLength="86.0" lengthAdjust="spacingAndGlyphs">EURUSD-,Daily</text>
<text x="221.39999999999998" y="582.6" font-size="12.2" fill="#828282" textLength="88.10000000000001" lengthAdjust="spacingAndGlyphs">AUDUSD-,Daily</text>
<text x="332.0" y="582.6" font-size="12.2" fill="#000" textLength="72.60000000000001" lengthAdjust="spacingAndGlyphs">USDCHF-,H4</text>
<text x="426.4" y="582.6" font-size="12.2" fill="#828282" textLength="87.4" lengthAdjust="spacingAndGlyphs">USDCAD-,Daily</text>
<text x="535.0" y="582.6" font-size="12.2" fill="#828282" textLength="89.5" lengthAdjust="spacingAndGlyphs">USDCNH-,Daily</text>
<text x="647.2" y="582.6" font-size="12.2" fill="#828282" textLength="85.0" lengthAdjust="spacingAndGlyphs">XAUUSD-,M30</text>
<text x="754.5" y="582.6" font-size="12.2" fill="#828282" textLength="58.199999999999996" lengthAdjust="spacingAndGlyphs">UKOil-,H4</text>
<g shape-rendering="crispEdges">
<rect x="104" y="571" width="1" height="14" fill="#606060"/>
<rect x="211" y="571" width="1" height="14" fill="#606060"/>
<rect x="524" y="571" width="1" height="14" fill="#606060"/>
<rect x="636" y="571" width="1" height="14" fill="#606060"/>
<rect x="744" y="571" width="1" height="14" fill="#606060"/>
<rect x="824" y="571" width="1" height="14" fill="#606060"/>
</g>
<path d="M1180.5,577.5 L1184.5,574.3 L1184.5,580.7 Z" fill="#a0a0a0"/>
<path d="M1203.5,577.5 L1199.5,574.3 L1199.5,580.7 Z" fill="#a0a0a0"/>
</svg>
</body></html>
